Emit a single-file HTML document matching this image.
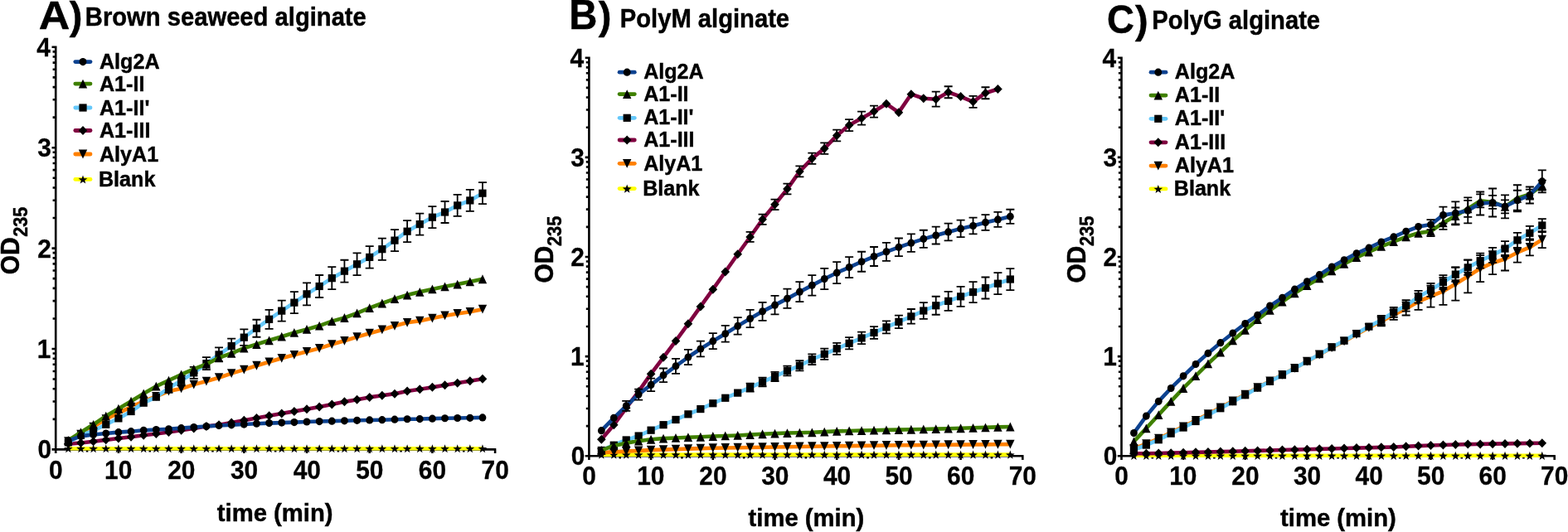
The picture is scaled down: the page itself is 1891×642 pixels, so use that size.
<!DOCTYPE html><html><head><meta charset="utf-8"><title>OD235 time courses of alginate lyases</title><style>html,body{margin:0;padding:0;background:#fff;overflow:hidden;}svg{display:block;}text{font-family:'Liberation Sans', Arial, Helvetica, sans-serif;font-weight:bold;fill:#000;}</style></head><body>
<svg width="1891" height="642" viewBox="0 0 1891 642">
<rect width="1891" height="642" fill="#fff"/>
<g><path d="M67.2 547V55.6M62.5 542.4H598.3M67.2 542.4v4.6M142.9 542.4v4.6M218.6 542.4v4.6M294.3 542.4v4.6M370 542.4v4.6M445.7 542.4v4.6M521.4 542.4v4.6M597.1 542.4v4.6M105.05 542.4v3.2M180.75 542.4v3.2M256.45 542.4v3.2M332.15 542.4v3.2M407.85 542.4v3.2M483.55 542.4v3.2M559.25 542.4v3.2M67.2 542.4h-4.7M67.2 421h-4.7M67.2 299.6h-4.7M67.2 178.2h-4.7M67.2 56.8h-4.7M67.2 505.85h-3.6M67.2 484.48h-3.6M67.2 469.31h-3.6M67.2 457.55h-3.6M67.2 447.93h-3.6M67.2 439.81h-3.6M67.2 432.76h-3.6M67.2 426.55h-3.6M67.2 384.45h-3.6M67.2 363.08h-3.6M67.2 347.91h-3.6M67.2 336.15h-3.6M67.2 326.53h-3.6M67.2 318.41h-3.6M67.2 311.36h-3.6M67.2 305.15h-3.6M67.2 263.05h-3.6M67.2 241.68h-3.6M67.2 226.51h-3.6M67.2 214.75h-3.6M67.2 205.13h-3.6M67.2 197.01h-3.6M67.2 189.96h-3.6M67.2 183.75h-3.6M67.2 141.65h-3.6M67.2 120.28h-3.6M67.2 105.11h-3.6M67.2 93.35h-3.6M67.2 83.73h-3.6M67.2 75.61h-3.6M67.2 68.56h-3.6M67.2 62.35h-3.6" stroke="#000" stroke-width="2.6" fill="none"/><path d="M82.34 541.19L97.48 541.19L112.62 541.19L127.76 541.19L142.9 541.19L158.04 541.19L173.18 541.19L188.32 541.19L203.46 541.19L218.6 541.19L233.74 541.19L248.88 541.19L264.02 541.19L279.16 541.19L294.3 541.19L309.44 541.19L324.58 541.19L339.72 541.19L354.86 541.19L370 541.19L385.14 541.19L400.28 541.19L415.42 541.19L430.56 541.19L445.7 541.19L460.84 541.19L475.98 541.19L491.12 541.19L506.26 541.19L521.4 541.19L536.54 541.19L551.68 541.19L566.82 541.19L581.96 541.19" fill="none" stroke="#ffff00" stroke-width="4.6" stroke-linejoin="round" stroke-linecap="butt"/><g fill="#000"><path d="M82.34 536.19L83.69 539.93L87.67 540.06L84.53 542.5L85.63 546.32L82.34 544.09L79.05 546.32L80.15 542.5L77.01 540.06L80.99 539.93Z"/><path d="M97.48 536.19L98.83 539.93L102.81 540.06L99.67 542.5L100.77 546.32L97.48 544.09L94.19 546.32L95.29 542.5L92.15 540.06L96.13 539.93Z"/><path d="M112.62 536.19L113.97 539.93L117.95 540.06L114.81 542.5L115.91 546.32L112.62 544.09L109.33 546.32L110.43 542.5L107.29 540.06L111.27 539.93Z"/><path d="M127.76 536.19L129.11 539.93L133.09 540.06L129.95 542.5L131.05 546.32L127.76 544.09L124.47 546.32L125.57 542.5L122.43 540.06L126.41 539.93Z"/><path d="M142.9 536.19L144.25 539.93L148.23 540.06L145.09 542.5L146.19 546.32L142.9 544.09L139.61 546.32L140.71 542.5L137.57 540.06L141.55 539.93Z"/><path d="M158.04 536.19L159.39 539.93L163.37 540.06L160.23 542.5L161.33 546.32L158.04 544.09L154.75 546.32L155.85 542.5L152.71 540.06L156.69 539.93Z"/><path d="M173.18 536.19L174.53 539.93L178.51 540.06L175.37 542.5L176.47 546.32L173.18 544.09L169.89 546.32L170.99 542.5L167.85 540.06L171.83 539.93Z"/><path d="M188.32 536.19L189.67 539.93L193.65 540.06L190.51 542.5L191.61 546.32L188.32 544.09L185.03 546.32L186.13 542.5L182.99 540.06L186.97 539.93Z"/><path d="M203.46 536.19L204.81 539.93L208.79 540.06L205.65 542.5L206.75 546.32L203.46 544.09L200.17 546.32L201.27 542.5L198.13 540.06L202.11 539.93Z"/><path d="M218.6 536.19L219.95 539.93L223.93 540.06L220.79 542.5L221.89 546.32L218.6 544.09L215.31 546.32L216.41 542.5L213.27 540.06L217.25 539.93Z"/><path d="M233.74 536.19L235.09 539.93L239.07 540.06L235.93 542.5L237.03 546.32L233.74 544.09L230.45 546.32L231.55 542.5L228.41 540.06L232.39 539.93Z"/><path d="M248.88 536.19L250.23 539.93L254.21 540.06L251.07 542.5L252.17 546.32L248.88 544.09L245.59 546.32L246.69 542.5L243.55 540.06L247.53 539.93Z"/><path d="M264.02 536.19L265.37 539.93L269.35 540.06L266.21 542.5L267.31 546.32L264.02 544.09L260.73 546.32L261.83 542.5L258.69 540.06L262.67 539.93Z"/><path d="M279.16 536.19L280.51 539.93L284.49 540.06L281.35 542.5L282.45 546.32L279.16 544.09L275.87 546.32L276.97 542.5L273.83 540.06L277.81 539.93Z"/><path d="M294.3 536.19L295.65 539.93L299.63 540.06L296.49 542.5L297.59 546.32L294.3 544.09L291.01 546.32L292.11 542.5L288.97 540.06L292.95 539.93Z"/><path d="M309.44 536.19L310.79 539.93L314.77 540.06L311.63 542.5L312.73 546.32L309.44 544.09L306.15 546.32L307.25 542.5L304.11 540.06L308.09 539.93Z"/><path d="M324.58 536.19L325.93 539.93L329.91 540.06L326.77 542.5L327.87 546.32L324.58 544.09L321.29 546.32L322.39 542.5L319.25 540.06L323.23 539.93Z"/><path d="M339.72 536.19L341.07 539.93L345.05 540.06L341.91 542.5L343.01 546.32L339.72 544.09L336.43 546.32L337.53 542.5L334.39 540.06L338.37 539.93Z"/><path d="M354.86 536.19L356.21 539.93L360.19 540.06L357.05 542.5L358.15 546.32L354.86 544.09L351.57 546.32L352.67 542.5L349.53 540.06L353.51 539.93Z"/><path d="M370 536.19L371.35 539.93L375.33 540.06L372.19 542.5L373.29 546.32L370 544.09L366.71 546.32L367.81 542.5L364.67 540.06L368.65 539.93Z"/><path d="M385.14 536.19L386.49 539.93L390.47 540.06L387.33 542.5L388.43 546.32L385.14 544.09L381.85 546.32L382.95 542.5L379.81 540.06L383.79 539.93Z"/><path d="M400.28 536.19L401.63 539.93L405.61 540.06L402.47 542.5L403.57 546.32L400.28 544.09L396.99 546.32L398.09 542.5L394.95 540.06L398.93 539.93Z"/><path d="M415.42 536.19L416.77 539.93L420.75 540.06L417.61 542.5L418.71 546.32L415.42 544.09L412.13 546.32L413.23 542.5L410.09 540.06L414.07 539.93Z"/><path d="M430.56 536.19L431.91 539.93L435.89 540.06L432.75 542.5L433.85 546.32L430.56 544.09L427.27 546.32L428.37 542.5L425.23 540.06L429.21 539.93Z"/><path d="M445.7 536.19L447.05 539.93L451.03 540.06L447.89 542.5L448.99 546.32L445.7 544.09L442.41 546.32L443.51 542.5L440.37 540.06L444.35 539.93Z"/><path d="M460.84 536.19L462.19 539.93L466.17 540.06L463.03 542.5L464.13 546.32L460.84 544.09L457.55 546.32L458.65 542.5L455.51 540.06L459.49 539.93Z"/><path d="M475.98 536.19L477.33 539.93L481.31 540.06L478.17 542.5L479.27 546.32L475.98 544.09L472.69 546.32L473.79 542.5L470.65 540.06L474.63 539.93Z"/><path d="M491.12 536.19L492.47 539.93L496.45 540.06L493.31 542.5L494.41 546.32L491.12 544.09L487.83 546.32L488.93 542.5L485.79 540.06L489.77 539.93Z"/><path d="M506.26 536.19L507.61 539.93L511.59 540.06L508.45 542.5L509.55 546.32L506.26 544.09L502.97 546.32L504.07 542.5L500.93 540.06L504.91 539.93Z"/><path d="M521.4 536.19L522.75 539.93L526.73 540.06L523.59 542.5L524.69 546.32L521.4 544.09L518.11 546.32L519.21 542.5L516.07 540.06L520.05 539.93Z"/><path d="M536.54 536.19L537.89 539.93L541.87 540.06L538.73 542.5L539.83 546.32L536.54 544.09L533.25 546.32L534.35 542.5L531.21 540.06L535.19 539.93Z"/><path d="M551.68 536.19L553.03 539.93L557.01 540.06L553.87 542.5L554.97 546.32L551.68 544.09L548.39 546.32L549.49 542.5L546.35 540.06L550.33 539.93Z"/><path d="M566.82 536.19L568.17 539.93L572.15 540.06L569.01 542.5L570.11 546.32L566.82 544.09L563.53 546.32L564.63 542.5L561.49 540.06L565.47 539.93Z"/><path d="M581.96 536.19L583.31 539.93L587.29 540.06L584.15 542.5L585.25 546.32L581.96 544.09L578.67 546.32L579.77 542.5L576.63 540.06L580.61 539.93Z"/></g><path d="M82.34 532.69L97.48 524.19L112.62 515.08L127.76 505.74L142.9 498.33L158.04 491.17L173.18 484.25L188.32 478.3L203.46 472.11L218.6 468.95L233.74 464.1L248.88 460.09L264.02 455.72L279.16 450.62L294.3 446.13L309.44 441.27L324.58 436.78L339.72 432.29L354.86 428.28L370 424.28L385.14 420.39L400.28 415.54L415.42 411.29L430.56 406.67L445.7 402.18L460.84 397.93L475.98 393.32L491.12 389.31L506.26 387.13L521.4 384.09L536.54 380.94L551.68 378.51L566.82 376.32L581.96 373.17" fill="none" stroke="#ff8000" stroke-width="4.6" stroke-linejoin="round" stroke-linecap="butt"/><g fill="#000"><path d="M82.34 538.09L87.54 527.29L77.14 527.29Z"/><path d="M97.48 529.59L102.68 518.79L92.28 518.79Z"/><path d="M112.62 520.48L117.82 509.68L107.42 509.68Z"/><path d="M127.76 511.14L132.96 500.34L122.56 500.34Z"/><path d="M142.9 503.73L148.1 492.93L137.7 492.93Z"/><path d="M158.04 496.57L163.24 485.77L152.84 485.77Z"/><path d="M173.18 489.65L178.38 478.85L167.98 478.85Z"/><path d="M188.32 483.7L193.52 472.9L183.12 472.9Z"/><path d="M203.46 477.51L208.66 466.71L198.26 466.71Z"/><path d="M218.6 474.35L223.8 463.55L213.4 463.55Z"/><path d="M233.74 469.5L238.94 458.7L228.54 458.7Z"/><path d="M248.88 465.49L254.08 454.69L243.68 454.69Z"/><path d="M264.02 461.12L269.22 450.32L258.82 450.32Z"/><path d="M279.16 456.02L284.36 445.22L273.96 445.22Z"/><path d="M294.3 451.53L299.5 440.73L289.1 440.73Z"/><path d="M309.44 446.67L314.64 435.87L304.24 435.87Z"/><path d="M324.58 442.18L329.78 431.38L319.38 431.38Z"/><path d="M339.72 437.69L344.92 426.89L334.52 426.89Z"/><path d="M354.86 433.68L360.06 422.88L349.66 422.88Z"/><path d="M370 429.68L375.2 418.88L364.8 418.88Z"/><path d="M385.14 425.79L390.34 414.99L379.94 414.99Z"/><path d="M400.28 420.94L405.48 410.14L395.08 410.14Z"/><path d="M415.42 416.69L420.62 405.89L410.22 405.89Z"/><path d="M430.56 412.07L435.76 401.27L425.36 401.27Z"/><path d="M445.7 407.58L450.9 396.78L440.5 396.78Z"/><path d="M460.84 403.33L466.04 392.53L455.64 392.53Z"/><path d="M475.98 398.72L481.18 387.92L470.78 387.92Z"/><path d="M491.12 394.71L496.32 383.91L485.92 383.91Z"/><path d="M506.26 392.53L511.46 381.73L501.06 381.73Z"/><path d="M521.4 389.49L526.6 378.69L516.2 378.69Z"/><path d="M536.54 386.34L541.74 375.54L531.34 375.54Z"/><path d="M551.68 383.91L556.88 373.11L546.48 373.11Z"/><path d="M566.82 381.72L572.02 370.92L561.62 370.92Z"/><path d="M581.96 378.57L587.16 367.77L576.76 367.77Z"/></g><path d="M82.34 535.6L97.48 534.51L112.62 532.81L127.76 530.87L142.9 529.05L158.04 527.23L173.18 525.28L188.32 523.46L203.46 521.52L218.6 519.21L233.74 517.03L248.88 514.48L264.02 512.78L279.16 510.11L294.3 507.32L309.44 504.4L324.58 501.85L339.72 499.06L354.86 496.39L370 493.84L385.14 490.93L400.28 487.89L415.42 484.86L430.56 482.31L445.7 479.39L460.84 477.21L475.98 475.14L491.12 471.99L506.26 469.8L521.4 467.37L536.54 464.83L551.68 462.28L566.82 459.85L581.96 457.3" fill="none" stroke="#800040" stroke-width="4.6" stroke-linejoin="round" stroke-linecap="butt"/><g fill="#000"><path d="M82.34 530.1L87.64 535.6L82.34 541.1L77.04 535.6Z"/><path d="M97.48 529.01L102.78 534.51L97.48 540.01L92.18 534.51Z"/><path d="M112.62 527.31L117.92 532.81L112.62 538.31L107.32 532.81Z"/><path d="M127.76 525.37L133.06 530.87L127.76 536.37L122.46 530.87Z"/><path d="M142.9 523.55L148.2 529.05L142.9 534.55L137.6 529.05Z"/><path d="M158.04 521.73L163.34 527.23L158.04 532.73L152.74 527.23Z"/><path d="M173.18 519.78L178.48 525.28L173.18 530.78L167.88 525.28Z"/><path d="M188.32 517.96L193.62 523.46L188.32 528.96L183.02 523.46Z"/><path d="M203.46 516.02L208.76 521.52L203.46 527.02L198.16 521.52Z"/><path d="M218.6 513.71L223.9 519.21L218.6 524.71L213.3 519.21Z"/><path d="M233.74 511.53L239.04 517.03L233.74 522.53L228.44 517.03Z"/><path d="M248.88 508.98L254.18 514.48L248.88 519.98L243.58 514.48Z"/><path d="M264.02 507.28L269.32 512.78L264.02 518.28L258.72 512.78Z"/><path d="M279.16 504.61L284.46 510.11L279.16 515.61L273.86 510.11Z"/><path d="M294.3 501.82L299.6 507.32L294.3 512.82L289 507.32Z"/><path d="M309.44 498.9L314.74 504.4L309.44 509.9L304.14 504.4Z"/><path d="M324.58 496.35L329.88 501.85L324.58 507.35L319.28 501.85Z"/><path d="M339.72 493.56L345.02 499.06L339.72 504.56L334.42 499.06Z"/><path d="M354.86 490.89L360.16 496.39L354.86 501.89L349.56 496.39Z"/><path d="M370 488.34L375.3 493.84L370 499.34L364.7 493.84Z"/><path d="M385.14 485.43L390.44 490.93L385.14 496.43L379.84 490.93Z"/><path d="M400.28 482.39L405.58 487.89L400.28 493.39L394.98 487.89Z"/><path d="M415.42 479.36L420.72 484.86L415.42 490.36L410.12 484.86Z"/><path d="M430.56 476.81L435.86 482.31L430.56 487.81L425.26 482.31Z"/><path d="M445.7 473.89L451 479.39L445.7 484.89L440.4 479.39Z"/><path d="M460.84 471.71L466.14 477.21L460.84 482.71L455.54 477.21Z"/><path d="M475.98 469.64L481.28 475.14L475.98 480.64L470.68 475.14Z"/><path d="M491.12 466.49L496.42 471.99L491.12 477.49L485.82 471.99Z"/><path d="M506.26 464.3L511.56 469.8L506.26 475.3L500.96 469.8Z"/><path d="M521.4 461.87L526.7 467.37L521.4 472.87L516.1 467.37Z"/><path d="M536.54 459.33L541.84 464.83L536.54 470.33L531.24 464.83Z"/><path d="M551.68 456.78L556.98 462.28L551.68 467.78L546.38 462.28Z"/><path d="M566.82 454.35L572.12 459.85L566.82 465.35L561.52 459.85Z"/><path d="M581.96 451.8L587.26 457.3L581.96 462.8L576.66 457.3Z"/></g><path d="M82.34 533.9L97.48 525.28L112.62 519.7L127.76 512.29L142.9 504.89L158.04 496.51L173.18 486.19L188.32 479.15L203.46 468.35L218.6 459.24L233.74 449.89L248.88 438.72L264.02 427.92L279.16 417.6L294.3 407.16L309.44 396.23L324.58 385.31L339.72 375.11L354.86 365.16L370 354.84L385.14 345.49L400.28 335.66L415.42 327.16L430.56 318.78L445.7 310.4L460.84 300.69L475.98 290.13L491.12 279.2L506.26 270.59L521.4 262.21L536.54 256.02L551.68 247.88L566.82 241.93L581.96 233.19" fill="none" stroke="#66c8fa" stroke-width="4.6" stroke-linejoin="round" stroke-linecap="butt"/><path d="M203.46 462.85V473.85M198.46 462.85h10M198.46 473.85h10M218.6 453.24V465.24M213.6 453.24h10M213.6 465.24h10M233.74 442.89V456.89M228.74 442.89h10M228.74 456.89h10M248.88 431.22V446.22M243.88 431.22h10M243.88 446.22h10M264.02 419.42V436.42M259.02 419.42h10M259.02 436.42h10M279.16 408.6V426.6M274.16 408.6h10M274.16 426.6h10M294.3 397.46V416.86M289.3 397.46h10M289.3 416.86h10M309.44 385.73V406.73M304.44 385.73h10M304.44 406.73h10M324.58 373.81V396.81M319.58 373.81h10M319.58 396.81h10M339.72 362.61V387.61M334.72 362.61h10M334.72 387.61h10M354.86 352.16V378.16M349.86 352.16h10M349.86 378.16h10M370 341.34V368.34M365 341.34h10M365 368.34h10M385.14 331.99V358.99M380.14 331.99h10M380.14 358.99h10M400.28 322.16V349.16M395.28 322.16h10M395.28 349.16h10M415.42 313.74V340.57M410.42 313.74h10M410.42 340.57h10M430.56 305.45V332.11M425.56 305.45h10M425.56 332.11h10M445.7 297.15V323.65M440.7 297.15h10M440.7 323.65h10M460.84 287.53V313.86M455.84 287.53h10M455.84 313.86h10M475.98 277.05V303.21M470.98 277.05h10M470.98 303.21h10M491.12 266.2V292.2M486.12 266.2h10M486.12 292.2h10M506.26 257.59V283.59M501.26 257.59h10M501.26 283.59h10M521.4 249.21V275.21M516.4 249.21h10M516.4 275.21h10M536.54 243.02V269.02M531.54 243.02h10M531.54 269.02h10M551.68 234.88V260.88M546.68 234.88h10M546.68 260.88h10M566.82 228.93V254.93M561.82 228.93h10M561.82 254.93h10M581.96 220.19V246.19M576.96 220.19h10M576.96 246.19h10" stroke="#000" stroke-width="1.8" fill="none"/><g fill="#000"><rect x="77.74" y="529.3" width="9.2" height="9.2"/><rect x="92.88" y="520.68" width="9.2" height="9.2"/><rect x="108.02" y="515.1" width="9.2" height="9.2"/><rect x="123.16" y="507.69" width="9.2" height="9.2"/><rect x="138.3" y="500.29" width="9.2" height="9.2"/><rect x="153.44" y="491.91" width="9.2" height="9.2"/><rect x="168.58" y="481.59" width="9.2" height="9.2"/><rect x="183.72" y="474.55" width="9.2" height="9.2"/><rect x="198.86" y="463.75" width="9.2" height="9.2"/><rect x="214" y="454.64" width="9.2" height="9.2"/><rect x="229.14" y="445.29" width="9.2" height="9.2"/><rect x="244.28" y="434.12" width="9.2" height="9.2"/><rect x="259.42" y="423.32" width="9.2" height="9.2"/><rect x="274.56" y="413" width="9.2" height="9.2"/><rect x="289.7" y="402.56" width="9.2" height="9.2"/><rect x="304.84" y="391.63" width="9.2" height="9.2"/><rect x="319.98" y="380.71" width="9.2" height="9.2"/><rect x="335.12" y="370.51" width="9.2" height="9.2"/><rect x="350.26" y="360.56" width="9.2" height="9.2"/><rect x="365.4" y="350.24" width="9.2" height="9.2"/><rect x="380.54" y="340.89" width="9.2" height="9.2"/><rect x="395.68" y="331.06" width="9.2" height="9.2"/><rect x="410.82" y="322.56" width="9.2" height="9.2"/><rect x="425.96" y="314.18" width="9.2" height="9.2"/><rect x="441.1" y="305.8" width="9.2" height="9.2"/><rect x="456.24" y="296.09" width="9.2" height="9.2"/><rect x="471.38" y="285.53" width="9.2" height="9.2"/><rect x="486.52" y="274.6" width="9.2" height="9.2"/><rect x="501.66" y="265.99" width="9.2" height="9.2"/><rect x="516.8" y="257.61" width="9.2" height="9.2"/><rect x="531.94" y="251.42" width="9.2" height="9.2"/><rect x="547.08" y="243.28" width="9.2" height="9.2"/><rect x="562.22" y="237.33" width="9.2" height="9.2"/><rect x="577.36" y="228.59" width="9.2" height="9.2"/></g><path d="M82.34 531.47L97.48 521.64L112.62 512.29L127.76 502.1L142.9 493.23L158.04 484.25L173.18 475.02L188.32 466.16L203.46 459.12L218.6 451.96L233.74 445.28L248.88 439.45L264.02 431.68L279.16 426.46L294.3 420.15L309.44 415.54L324.58 410.8L339.72 406.19L354.86 401.45L370 397.45L385.14 393.08L400.28 387.62L415.42 383.49L430.56 377.9L445.7 371.59L460.84 366.01L475.98 360.66L491.12 356.05L506.26 352.29L521.4 348.89L536.54 345.85L551.68 343.06L566.82 339.9L581.96 336.75" fill="none" stroke="#3f8000" stroke-width="4.6" stroke-linejoin="round" stroke-linecap="butt"/><g fill="#000"><path d="M82.34 526.07L87.54 536.87L77.14 536.87Z"/><path d="M97.48 516.24L102.68 527.04L92.28 527.04Z"/><path d="M112.62 506.89L117.82 517.69L107.42 517.69Z"/><path d="M127.76 496.7L132.96 507.5L122.56 507.5Z"/><path d="M142.9 487.83L148.1 498.63L137.7 498.63Z"/><path d="M158.04 478.85L163.24 489.65L152.84 489.65Z"/><path d="M173.18 469.62L178.38 480.42L167.98 480.42Z"/><path d="M188.32 460.76L193.52 471.56L183.12 471.56Z"/><path d="M203.46 453.72L208.66 464.52L198.26 464.52Z"/><path d="M218.6 446.56L223.8 457.36L213.4 457.36Z"/><path d="M233.74 439.88L238.94 450.68L228.54 450.68Z"/><path d="M248.88 434.05L254.08 444.85L243.68 444.85Z"/><path d="M264.02 426.28L269.22 437.08L258.82 437.08Z"/><path d="M279.16 421.06L284.36 431.86L273.96 431.86Z"/><path d="M294.3 414.75L299.5 425.55L289.1 425.55Z"/><path d="M309.44 410.14L314.64 420.94L304.24 420.94Z"/><path d="M324.58 405.4L329.78 416.2L319.38 416.2Z"/><path d="M339.72 400.79L344.92 411.59L334.52 411.59Z"/><path d="M354.86 396.05L360.06 406.85L349.66 406.85Z"/><path d="M370 392.05L375.2 402.85L364.8 402.85Z"/><path d="M385.14 387.68L390.34 398.48L379.94 398.48Z"/><path d="M400.28 382.22L405.48 393.01L395.08 393.01Z"/><path d="M415.42 378.09L420.62 388.89L410.22 388.89Z"/><path d="M430.56 372.5L435.76 383.3L425.36 383.3Z"/><path d="M445.7 366.19L450.9 376.99L440.5 376.99Z"/><path d="M460.84 360.61L466.04 371.41L455.64 371.41Z"/><path d="M475.98 355.26L481.18 366.06L470.78 366.06Z"/><path d="M491.12 350.65L496.32 361.45L485.92 361.45Z"/><path d="M506.26 346.89L511.46 357.69L501.06 357.69Z"/><path d="M521.4 343.49L526.6 354.29L516.2 354.29Z"/><path d="M536.54 340.45L541.74 351.25L531.34 351.25Z"/><path d="M551.68 337.66L556.88 348.46L546.48 348.46Z"/><path d="M566.82 334.5L572.02 345.3L561.62 345.3Z"/><path d="M581.96 331.35L587.16 342.15L576.76 342.15Z"/></g><path d="M82.34 531.96L97.48 526.38L112.62 524.43L127.76 522.98L142.9 521.64L158.04 520.67L173.18 519.33L188.32 518.48L203.46 517.76L218.6 516.66L233.74 515.57L248.88 514.48L264.02 513.51L279.16 512.78L294.3 512.05L309.44 511.2L324.58 510.59L339.72 510.11L354.86 509.62L370 509.01L385.14 508.53L400.28 508.17L415.42 507.8L430.56 507.32L445.7 506.95L460.84 506.71L475.98 506.22L491.12 505.74L506.26 505.62L521.4 505.13L536.54 504.77L551.68 504.52L566.82 504.28L581.96 503.92" fill="none" stroke="#0d4290" stroke-width="4.6" stroke-linejoin="round" stroke-linecap="butt"/><g fill="#000"><ellipse cx="82.34" cy="531.96" rx="4.4" ry="4.6"/><ellipse cx="97.48" cy="526.38" rx="4.4" ry="4.6"/><ellipse cx="112.62" cy="524.43" rx="4.4" ry="4.6"/><ellipse cx="127.76" cy="522.98" rx="4.4" ry="4.6"/><ellipse cx="142.9" cy="521.64" rx="4.4" ry="4.6"/><ellipse cx="158.04" cy="520.67" rx="4.4" ry="4.6"/><ellipse cx="173.18" cy="519.33" rx="4.4" ry="4.6"/><ellipse cx="188.32" cy="518.48" rx="4.4" ry="4.6"/><ellipse cx="203.46" cy="517.76" rx="4.4" ry="4.6"/><ellipse cx="218.6" cy="516.66" rx="4.4" ry="4.6"/><ellipse cx="233.74" cy="515.57" rx="4.4" ry="4.6"/><ellipse cx="248.88" cy="514.48" rx="4.4" ry="4.6"/><ellipse cx="264.02" cy="513.51" rx="4.4" ry="4.6"/><ellipse cx="279.16" cy="512.78" rx="4.4" ry="4.6"/><ellipse cx="294.3" cy="512.05" rx="4.4" ry="4.6"/><ellipse cx="309.44" cy="511.2" rx="4.4" ry="4.6"/><ellipse cx="324.58" cy="510.59" rx="4.4" ry="4.6"/><ellipse cx="339.72" cy="510.11" rx="4.4" ry="4.6"/><ellipse cx="354.86" cy="509.62" rx="4.4" ry="4.6"/><ellipse cx="370" cy="509.01" rx="4.4" ry="4.6"/><ellipse cx="385.14" cy="508.53" rx="4.4" ry="4.6"/><ellipse cx="400.28" cy="508.17" rx="4.4" ry="4.6"/><ellipse cx="415.42" cy="507.8" rx="4.4" ry="4.6"/><ellipse cx="430.56" cy="507.32" rx="4.4" ry="4.6"/><ellipse cx="445.7" cy="506.95" rx="4.4" ry="4.6"/><ellipse cx="460.84" cy="506.71" rx="4.4" ry="4.6"/><ellipse cx="475.98" cy="506.22" rx="4.4" ry="4.6"/><ellipse cx="491.12" cy="505.74" rx="4.4" ry="4.6"/><ellipse cx="506.26" cy="505.62" rx="4.4" ry="4.6"/><ellipse cx="521.4" cy="505.13" rx="4.4" ry="4.6"/><ellipse cx="536.54" cy="504.77" rx="4.4" ry="4.6"/><ellipse cx="551.68" cy="504.52" rx="4.4" ry="4.6"/><ellipse cx="566.82" cy="504.28" rx="4.4" ry="4.6"/><ellipse cx="581.96" cy="503.92" rx="4.4" ry="4.6"/></g><text transform="translate(58.98 577.5) scale(0.2990 0.3200)" font-size="100" stroke="#000" stroke-width="0.97">0</text><text transform="translate(126.01 577.5) scale(0.2990 0.3200)" font-size="100" stroke="#000" stroke-width="0.97">10</text><text transform="translate(202.16 577.5) scale(0.2990 0.3200)" font-size="100" stroke="#000" stroke-width="0.97">20</text><text transform="translate(278 577.5) scale(0.2990 0.3200)" font-size="100" stroke="#000" stroke-width="0.97">30</text><text transform="translate(353.7 577.5) scale(0.2990 0.3200)" font-size="100" stroke="#000" stroke-width="0.97">40</text><text transform="translate(429.25 577.5) scale(0.2990 0.3200)" font-size="100" stroke="#000" stroke-width="0.97">50</text><text transform="translate(504.81 577.5) scale(0.2990 0.3200)" font-size="100" stroke="#000" stroke-width="0.97">60</text><text transform="translate(580.51 577.5) scale(0.2990 0.3200)" font-size="100" stroke="#000" stroke-width="0.97">70</text><text transform="translate(45.45 553.4) scale(0.2990 0.3200)" font-size="100" stroke="#000" stroke-width="0.97">0</text><text transform="translate(44.85 432) scale(0.2990 0.3200)" font-size="100" stroke="#000" stroke-width="0.97">1</text><text transform="translate(45.15 310.6) scale(0.2990 0.3200)" font-size="100" stroke="#000" stroke-width="0.97">2</text><text transform="translate(45.15 189.2) scale(0.2990 0.3200)" font-size="100" stroke="#000" stroke-width="0.97">3</text><text transform="translate(44.26 67.8) scale(0.2990 0.3200)" font-size="100" stroke="#000" stroke-width="0.97">4</text><path d="M90.8 74.6H109" stroke="#0d4290" stroke-width="4.8" stroke-linecap="round"/><g fill="#000"><ellipse cx="100" cy="74.6" rx="4.4" ry="4.6"/></g><text transform="translate(120 82.9) scale(0.2510 0.2670)" font-size="100" stroke="#000" stroke-width="1.74">Alg2A</text><path d="M90.8 101.1H109" stroke="#3f8000" stroke-width="4.8" stroke-linecap="round"/><g fill="#000"><path d="M100 95.7L105.2 106.5L94.8 106.5Z"/></g><text transform="translate(120 110) scale(0.2510 0.2670)" font-size="100" stroke="#000" stroke-width="1.74">A1-II</text><path d="M90.8 130H109" stroke="#66c8fa" stroke-width="4.8" stroke-linecap="round"/><g fill="#000"><rect x="95.4" y="125.4" width="9.2" height="9.2"/></g><text transform="translate(120 138.9) scale(0.2510 0.2670)" font-size="100" stroke="#000" stroke-width="1.74">A1-II&#39;</text><path d="M90.8 157.5H109" stroke="#800040" stroke-width="4.8" stroke-linecap="round"/><g fill="#000"><path d="M100 152L105.3 157.5L100 163L94.7 157.5Z"/></g><text transform="translate(120 166.2) scale(0.2510 0.2670)" font-size="100" stroke="#000" stroke-width="1.74">A1-III</text><path d="M90.8 186H109" stroke="#ff8000" stroke-width="4.8" stroke-linecap="round"/><g fill="#000"><path d="M100 191.4L105.2 180.6L94.8 180.6Z"/></g><text transform="translate(120 194.7) scale(0.2510 0.2670)" font-size="100" stroke="#000" stroke-width="1.74">AlyA1</text><path d="M90.8 216.4H109" stroke="#ffff00" stroke-width="4.8" stroke-linecap="round"/><g fill="#000"><path d="M100 211.4L101.35 215.14L105.33 215.27L102.19 217.71L103.29 221.53L100 219.3L96.71 221.53L97.81 217.71L94.67 215.27L98.65 215.14Z"/></g><text transform="translate(119 224.5) scale(0.2510 0.2670)" font-size="100" stroke="#000" stroke-width="1.74">Blank</text><text transform="translate(46.74 34.7) scale(0.5197 0.4855)" font-size="100" stroke="#000" stroke-width="0.9">A</text><text transform="translate(83.8 34.93) scale(0.4700 0.4700)" font-size="100" stroke="#000" stroke-width="0.96">)</text><text transform="translate(102.86 30.8) scale(0.2920 0.3190)" font-size="100" stroke="#000" stroke-width="1.47">Brown seaweed alginate</text><text transform="translate(23.1 331.3) rotate(-90) scale(0.3007 0.3127)" font-size="100" stroke="#000" stroke-width="1.47">OD</text><text transform="translate(32.7 285.85) rotate(-90) scale(0.2161 0.2338)" font-size="100" stroke="#000" stroke-width="2">235</text><text transform="translate(261.81 628.7) scale(0.2926 0.3000)" font-size="100" stroke="#000" stroke-width="1.52">time (min)</text></g>
<g><path d="M710.4 554.9V68.5M705.7 550.3H1234.5M710.4 550.3v4.6M785.1 550.3v4.6M859.8 550.3v4.6M934.5 550.3v4.6M1009.2 550.3v4.6M1083.9 550.3v4.6M1158.6 550.3v4.6M1233.3 550.3v4.6M747.75 550.3v3.2M822.45 550.3v3.2M897.15 550.3v3.2M971.85 550.3v3.2M1046.55 550.3v3.2M1121.25 550.3v3.2M1195.95 550.3v3.2M710.4 550.3h-4.7M710.4 430.15h-4.7M710.4 310h-4.7M710.4 189.85h-4.7M710.4 69.7h-4.7M710.4 514.13h-3.6M710.4 492.97h-3.6M710.4 477.96h-3.6M710.4 466.32h-3.6M710.4 456.81h-3.6M710.4 448.76h-3.6M710.4 441.79h-3.6M710.4 435.65h-3.6M710.4 393.98h-3.6M710.4 372.82h-3.6M710.4 357.81h-3.6M710.4 346.17h-3.6M710.4 336.66h-3.6M710.4 328.61h-3.6M710.4 321.64h-3.6M710.4 315.5h-3.6M710.4 273.83h-3.6M710.4 252.67h-3.6M710.4 237.66h-3.6M710.4 226.02h-3.6M710.4 216.51h-3.6M710.4 208.46h-3.6M710.4 201.49h-3.6M710.4 195.35h-3.6M710.4 153.68h-3.6M710.4 132.52h-3.6M710.4 117.51h-3.6M710.4 105.87h-3.6M710.4 96.36h-3.6M710.4 88.31h-3.6M710.4 81.34h-3.6M710.4 75.2h-3.6" stroke="#000" stroke-width="2.6" fill="none"/><path d="M725.34 548.62L740.28 548.62L755.22 548.62L770.16 548.62L785.1 548.62L800.04 548.62L814.98 548.62L829.92 548.62L844.86 548.62L859.8 548.62L874.74 548.62L889.68 548.62L904.62 548.62L919.56 548.62L934.5 548.62L949.44 548.62L964.38 548.62L979.32 548.62L994.26 548.62L1009.2 548.62L1024.14 548.62L1039.08 548.62L1054.02 548.62L1068.96 548.62L1083.9 548.62L1098.84 548.62L1113.78 548.62L1128.72 548.62L1143.66 548.62L1158.6 548.62L1173.54 548.62L1188.48 548.62L1203.42 548.62L1218.36 548.62" fill="none" stroke="#ffff00" stroke-width="4.6" stroke-linejoin="round" stroke-linecap="butt"/><g fill="#000"><path d="M725.34 543.62L726.69 547.36L730.67 547.49L727.53 549.93L728.63 553.75L725.34 551.52L722.05 553.75L723.15 549.93L720.01 547.49L723.99 547.36Z"/><path d="M740.28 543.62L741.63 547.36L745.61 547.49L742.47 549.93L743.57 553.75L740.28 551.52L736.99 553.75L738.09 549.93L734.95 547.49L738.93 547.36Z"/><path d="M755.22 543.62L756.57 547.36L760.55 547.49L757.41 549.93L758.51 553.75L755.22 551.52L751.93 553.75L753.03 549.93L749.89 547.49L753.87 547.36Z"/><path d="M770.16 543.62L771.51 547.36L775.49 547.49L772.35 549.93L773.45 553.75L770.16 551.52L766.87 553.75L767.97 549.93L764.83 547.49L768.81 547.36Z"/><path d="M785.1 543.62L786.45 547.36L790.43 547.49L787.29 549.93L788.39 553.75L785.1 551.52L781.81 553.75L782.91 549.93L779.77 547.49L783.75 547.36Z"/><path d="M800.04 543.62L801.39 547.36L805.37 547.49L802.23 549.93L803.33 553.75L800.04 551.52L796.75 553.75L797.85 549.93L794.71 547.49L798.69 547.36Z"/><path d="M814.98 543.62L816.33 547.36L820.31 547.49L817.17 549.93L818.27 553.75L814.98 551.52L811.69 553.75L812.79 549.93L809.65 547.49L813.63 547.36Z"/><path d="M829.92 543.62L831.27 547.36L835.25 547.49L832.11 549.93L833.21 553.75L829.92 551.52L826.63 553.75L827.73 549.93L824.59 547.49L828.57 547.36Z"/><path d="M844.86 543.62L846.21 547.36L850.19 547.49L847.05 549.93L848.15 553.75L844.86 551.52L841.57 553.75L842.67 549.93L839.53 547.49L843.51 547.36Z"/><path d="M859.8 543.62L861.15 547.36L865.13 547.49L861.99 549.93L863.09 553.75L859.8 551.52L856.51 553.75L857.61 549.93L854.47 547.49L858.45 547.36Z"/><path d="M874.74 543.62L876.09 547.36L880.07 547.49L876.93 549.93L878.03 553.75L874.74 551.52L871.45 553.75L872.55 549.93L869.41 547.49L873.39 547.36Z"/><path d="M889.68 543.62L891.03 547.36L895.01 547.49L891.87 549.93L892.97 553.75L889.68 551.52L886.39 553.75L887.49 549.93L884.35 547.49L888.33 547.36Z"/><path d="M904.62 543.62L905.97 547.36L909.95 547.49L906.81 549.93L907.91 553.75L904.62 551.52L901.33 553.75L902.43 549.93L899.29 547.49L903.27 547.36Z"/><path d="M919.56 543.62L920.91 547.36L924.89 547.49L921.75 549.93L922.85 553.75L919.56 551.52L916.27 553.75L917.37 549.93L914.23 547.49L918.21 547.36Z"/><path d="M934.5 543.62L935.85 547.36L939.83 547.49L936.69 549.93L937.79 553.75L934.5 551.52L931.21 553.75L932.31 549.93L929.17 547.49L933.15 547.36Z"/><path d="M949.44 543.62L950.79 547.36L954.77 547.49L951.63 549.93L952.73 553.75L949.44 551.52L946.15 553.75L947.25 549.93L944.11 547.49L948.09 547.36Z"/><path d="M964.38 543.62L965.73 547.36L969.71 547.49L966.57 549.93L967.67 553.75L964.38 551.52L961.09 553.75L962.19 549.93L959.05 547.49L963.03 547.36Z"/><path d="M979.32 543.62L980.67 547.36L984.65 547.49L981.51 549.93L982.61 553.75L979.32 551.52L976.03 553.75L977.13 549.93L973.99 547.49L977.97 547.36Z"/><path d="M994.26 543.62L995.61 547.36L999.59 547.49L996.45 549.93L997.55 553.75L994.26 551.52L990.97 553.75L992.07 549.93L988.93 547.49L992.91 547.36Z"/><path d="M1009.2 543.62L1010.55 547.36L1014.53 547.49L1011.39 549.93L1012.49 553.75L1009.2 551.52L1005.91 553.75L1007.01 549.93L1003.87 547.49L1007.85 547.36Z"/><path d="M1024.14 543.62L1025.49 547.36L1029.47 547.49L1026.33 549.93L1027.43 553.75L1024.14 551.52L1020.85 553.75L1021.95 549.93L1018.81 547.49L1022.79 547.36Z"/><path d="M1039.08 543.62L1040.43 547.36L1044.41 547.49L1041.27 549.93L1042.37 553.75L1039.08 551.52L1035.79 553.75L1036.89 549.93L1033.75 547.49L1037.73 547.36Z"/><path d="M1054.02 543.62L1055.37 547.36L1059.35 547.49L1056.21 549.93L1057.31 553.75L1054.02 551.52L1050.73 553.75L1051.83 549.93L1048.69 547.49L1052.67 547.36Z"/><path d="M1068.96 543.62L1070.31 547.36L1074.29 547.49L1071.15 549.93L1072.25 553.75L1068.96 551.52L1065.67 553.75L1066.77 549.93L1063.63 547.49L1067.61 547.36Z"/><path d="M1083.9 543.62L1085.25 547.36L1089.23 547.49L1086.09 549.93L1087.19 553.75L1083.9 551.52L1080.61 553.75L1081.71 549.93L1078.57 547.49L1082.55 547.36Z"/><path d="M1098.84 543.62L1100.19 547.36L1104.17 547.49L1101.03 549.93L1102.13 553.75L1098.84 551.52L1095.55 553.75L1096.65 549.93L1093.51 547.49L1097.49 547.36Z"/><path d="M1113.78 543.62L1115.13 547.36L1119.11 547.49L1115.97 549.93L1117.07 553.75L1113.78 551.52L1110.49 553.75L1111.59 549.93L1108.45 547.49L1112.43 547.36Z"/><path d="M1128.72 543.62L1130.07 547.36L1134.05 547.49L1130.91 549.93L1132.01 553.75L1128.72 551.52L1125.43 553.75L1126.53 549.93L1123.39 547.49L1127.37 547.36Z"/><path d="M1143.66 543.62L1145.01 547.36L1148.99 547.49L1145.85 549.93L1146.95 553.75L1143.66 551.52L1140.37 553.75L1141.47 549.93L1138.33 547.49L1142.31 547.36Z"/><path d="M1158.6 543.62L1159.95 547.36L1163.93 547.49L1160.79 549.93L1161.89 553.75L1158.6 551.52L1155.31 553.75L1156.41 549.93L1153.27 547.49L1157.25 547.36Z"/><path d="M1173.54 543.62L1174.89 547.36L1178.87 547.49L1175.73 549.93L1176.83 553.75L1173.54 551.52L1170.25 553.75L1171.35 549.93L1168.21 547.49L1172.19 547.36Z"/><path d="M1188.48 543.62L1189.83 547.36L1193.81 547.49L1190.67 549.93L1191.77 553.75L1188.48 551.52L1185.19 553.75L1186.29 549.93L1183.15 547.49L1187.13 547.36Z"/><path d="M1203.42 543.62L1204.77 547.36L1208.75 547.49L1205.61 549.93L1206.71 553.75L1203.42 551.52L1200.13 553.75L1201.23 549.93L1198.09 547.49L1202.07 547.36Z"/><path d="M1218.36 543.62L1219.71 547.36L1223.69 547.49L1220.55 549.93L1221.65 553.75L1218.36 551.52L1215.07 553.75L1216.17 549.93L1213.03 547.49L1217.01 547.36Z"/></g><path d="M725.34 546.09L740.28 545.34L755.22 544.59L770.16 543.84L785.1 543.09L800.04 542.61L814.98 542.13L829.92 541.65L844.86 541.17L859.8 540.69L874.74 540.45L889.68 540.21L904.62 539.97L919.56 539.73L934.5 539.49L949.44 539.25L964.38 539.01L979.32 538.77L994.26 538.53L1009.2 538.28L1024.14 538.09L1039.08 537.9L1054.02 537.71L1068.96 537.52L1083.9 537.32L1098.84 537.18L1113.78 537.04L1128.72 536.89L1143.66 536.75L1158.6 536.6L1173.54 536.48L1188.48 536.36L1203.42 536.24L1218.36 536.12" fill="none" stroke="#ff8000" stroke-width="4.6" stroke-linejoin="round" stroke-linecap="butt"/><g fill="#000"><path d="M725.34 551.49L730.54 540.69L720.14 540.69Z"/><path d="M740.28 550.74L745.48 539.94L735.08 539.94Z"/><path d="M755.22 549.99L760.42 539.19L750.02 539.19Z"/><path d="M770.16 549.24L775.36 538.44L764.96 538.44Z"/><path d="M785.1 548.49L790.3 537.69L779.9 537.69Z"/><path d="M800.04 548.01L805.24 537.21L794.84 537.21Z"/><path d="M814.98 547.53L820.18 536.73L809.78 536.73Z"/><path d="M829.92 547.05L835.12 536.25L824.72 536.25Z"/><path d="M844.86 546.57L850.06 535.77L839.66 535.77Z"/><path d="M859.8 546.09L865 535.29L854.6 535.29Z"/><path d="M874.74 545.85L879.94 535.05L869.54 535.05Z"/><path d="M889.68 545.61L894.88 534.81L884.48 534.81Z"/><path d="M904.62 545.37L909.82 534.57L899.42 534.57Z"/><path d="M919.56 545.13L924.76 534.33L914.36 534.33Z"/><path d="M934.5 544.89L939.7 534.09L929.3 534.09Z"/><path d="M949.44 544.65L954.64 533.85L944.24 533.85Z"/><path d="M964.38 544.41L969.58 533.61L959.18 533.61Z"/><path d="M979.32 544.17L984.52 533.37L974.12 533.37Z"/><path d="M994.26 543.93L999.46 533.13L989.06 533.13Z"/><path d="M1009.2 543.68L1014.4 532.88L1004 532.88Z"/><path d="M1024.14 543.49L1029.34 532.69L1018.94 532.69Z"/><path d="M1039.08 543.3L1044.28 532.5L1033.88 532.5Z"/><path d="M1054.02 543.11L1059.22 532.31L1048.82 532.31Z"/><path d="M1068.96 542.92L1074.16 532.12L1063.76 532.12Z"/><path d="M1083.9 542.72L1089.1 531.92L1078.7 531.92Z"/><path d="M1098.84 542.58L1104.04 531.78L1093.64 531.78Z"/><path d="M1113.78 542.44L1118.98 531.64L1108.58 531.64Z"/><path d="M1128.72 542.29L1133.92 531.49L1123.52 531.49Z"/><path d="M1143.66 542.15L1148.86 531.35L1138.46 531.35Z"/><path d="M1158.6 542L1163.8 531.2L1153.4 531.2Z"/><path d="M1173.54 541.88L1178.74 531.08L1168.34 531.08Z"/><path d="M1188.48 541.76L1193.68 530.96L1183.28 530.96Z"/><path d="M1203.42 541.64L1208.62 530.84L1198.22 530.84Z"/><path d="M1218.36 541.52L1223.56 530.72L1213.16 530.72Z"/></g><path d="M725.34 530.23L740.28 512.69L755.22 492.27L770.16 472.44L785.1 451.18L800.04 431.35L814.98 411.41L829.92 390.86L844.86 369.95L859.8 349.17L874.74 328.02L889.68 306.76L904.62 285.97L919.56 264.82L934.5 246.8L949.44 228.06L964.38 206.91L979.32 191.29L994.26 179.16L1009.2 163.54L1024.14 151.04L1039.08 142.63L1054.02 134.58L1068.96 125.33L1083.9 135.66L1098.84 113.67L1113.78 118.72L1128.72 119.68L1143.66 111.27L1158.6 116.56L1173.54 122.81L1188.48 112.23L1203.42 107.55" fill="none" stroke="#800040" stroke-width="4.6" stroke-linejoin="round" stroke-linecap="butt"/><path d="M904.62 279.97V291.97M899.62 279.97h10M899.62 291.97h10M919.56 258.7V270.95M914.56 258.7h10M914.56 270.95h10M934.5 240.55V253.05M929.5 240.55h10M929.5 253.05h10M949.44 221.68V234.43M944.44 221.68h10M944.44 234.43h10M964.38 200.41V213.41M959.38 200.41h10M959.38 213.41h10M979.32 184.67V197.92M974.32 184.67h10M974.32 197.92h10M994.26 172.41V185.91M989.26 172.41h10M989.26 185.91h10M1009.2 156.66V170.41M1004.2 156.66h10M1004.2 170.41h10M1024.14 144.04V158.04M1019.14 144.04h10M1019.14 158.04h10M1039.08 134.63V150.63M1034.08 134.63h10M1034.08 150.63h10M1054.02 127.58V141.58M1049.02 127.58h10M1049.02 141.58h10M1128.72 110.68V128.68M1123.72 110.68h10M1123.72 128.68h10M1143.66 104.27V118.27M1138.66 104.27h10M1138.66 118.27h10M1173.54 115.81V129.81M1168.54 115.81h10M1168.54 129.81h10M1188.48 105.23V119.23M1183.48 105.23h10M1183.48 119.23h10" stroke="#000" stroke-width="1.8" fill="none"/><g fill="#000"><path d="M725.34 524.73L730.64 530.23L725.34 535.73L720.04 530.23Z"/><path d="M740.28 507.19L745.58 512.69L740.28 518.19L734.98 512.69Z"/><path d="M755.22 486.77L760.52 492.27L755.22 497.77L749.92 492.27Z"/><path d="M770.16 466.94L775.46 472.44L770.16 477.94L764.86 472.44Z"/><path d="M785.1 445.68L790.4 451.18L785.1 456.68L779.8 451.18Z"/><path d="M800.04 425.85L805.34 431.35L800.04 436.85L794.74 431.35Z"/><path d="M814.98 405.91L820.28 411.41L814.98 416.91L809.68 411.41Z"/><path d="M829.92 385.36L835.22 390.86L829.92 396.36L824.62 390.86Z"/><path d="M844.86 364.45L850.16 369.95L844.86 375.45L839.56 369.95Z"/><path d="M859.8 343.67L865.1 349.17L859.8 354.67L854.5 349.17Z"/><path d="M874.74 322.52L880.04 328.02L874.74 333.52L869.44 328.02Z"/><path d="M889.68 301.26L894.98 306.76L889.68 312.26L884.38 306.76Z"/><path d="M904.62 280.47L909.92 285.97L904.62 291.47L899.32 285.97Z"/><path d="M919.56 259.32L924.86 264.82L919.56 270.32L914.26 264.82Z"/><path d="M934.5 241.3L939.8 246.8L934.5 252.3L929.2 246.8Z"/><path d="M949.44 222.56L954.74 228.06L949.44 233.56L944.14 228.06Z"/><path d="M964.38 201.41L969.68 206.91L964.38 212.41L959.08 206.91Z"/><path d="M979.32 185.79L984.62 191.29L979.32 196.79L974.02 191.29Z"/><path d="M994.26 173.66L999.56 179.16L994.26 184.66L988.96 179.16Z"/><path d="M1009.2 158.04L1014.5 163.54L1009.2 169.04L1003.9 163.54Z"/><path d="M1024.14 145.54L1029.44 151.04L1024.14 156.54L1018.84 151.04Z"/><path d="M1039.08 137.13L1044.38 142.63L1039.08 148.13L1033.78 142.63Z"/><path d="M1054.02 129.08L1059.32 134.58L1054.02 140.08L1048.72 134.58Z"/><path d="M1068.96 119.83L1074.26 125.33L1068.96 130.83L1063.66 125.33Z"/><path d="M1083.9 130.16L1089.2 135.66L1083.9 141.16L1078.6 135.66Z"/><path d="M1098.84 108.17L1104.14 113.67L1098.84 119.17L1093.54 113.67Z"/><path d="M1113.78 113.22L1119.08 118.72L1113.78 124.22L1108.48 118.72Z"/><path d="M1128.72 114.18L1134.02 119.68L1128.72 125.18L1123.42 119.68Z"/><path d="M1143.66 105.77L1148.96 111.27L1143.66 116.77L1138.36 111.27Z"/><path d="M1158.6 111.06L1163.9 116.56L1158.6 122.06L1153.3 116.56Z"/><path d="M1173.54 117.31L1178.84 122.81L1173.54 128.31L1168.24 122.81Z"/><path d="M1188.48 106.73L1193.78 112.23L1188.48 117.73L1183.18 112.23Z"/><path d="M1203.42 102.05L1208.72 107.55L1203.42 113.05L1198.12 107.55Z"/></g><path d="M725.34 543.45L740.28 537.2L755.22 530.96L770.16 526.03L785.1 519.18L800.04 512.69L814.98 506.45L829.92 499.84L844.86 493.59L859.8 486.74L874.74 480.25L889.68 474.12L904.62 467.64L919.56 460.91L934.5 454.42L949.44 447.45L964.38 441.32L979.32 433.75L994.26 427.27L1009.2 420.78L1024.14 414.29L1039.08 407.92L1054.02 401.43L1068.96 394.83L1083.9 388.34L1098.84 381.85L1113.78 375L1128.72 368.75L1143.66 363.35L1158.6 357.82L1173.54 352.53L1188.48 347.49L1203.42 342.2L1218.36 337.03" fill="none" stroke="#66c8fa" stroke-width="4.6" stroke-linejoin="round" stroke-linecap="butt"/><path d="M904.62 462.57V472.7M899.62 462.57h10M899.62 472.7h10M919.56 455.58V466.24M914.56 455.58h10M914.56 466.24h10M934.5 448.82V460.02M929.5 448.82h10M929.5 460.02h10M949.44 441.62V453.28M944.44 441.62h10M944.44 453.28h10M964.38 435.26V447.39M959.38 435.26h10M959.38 447.39h10M979.32 427.45V440.05M974.32 427.45h10M974.32 440.05h10M994.26 420.62V433.92M989.26 420.62h10M989.26 433.92h10M1009.2 413.78V427.78M1004.2 413.78h10M1004.2 427.78h10M1024.14 407.17V421.42M1019.14 407.17h10M1019.14 421.42h10M1039.08 400.67V415.17M1034.08 400.67h10M1034.08 415.17h10M1054.02 394.06V408.81M1049.02 394.06h10M1049.02 408.81h10M1068.96 387.33V402.33M1063.96 387.33h10M1063.96 402.33h10M1083.9 380.54V396.14M1078.9 380.54h10M1078.9 396.14h10M1098.84 372.98V390.72M1093.84 372.98h10M1093.84 390.72h10M1113.78 365.07V384.93M1108.78 365.07h10M1108.78 384.93h10M1128.72 357.75V379.75M1123.72 357.75h10M1123.72 379.75h10M1143.66 351.85V374.85M1138.66 351.85h10M1138.66 374.85h10M1158.6 345.82V369.82M1153.6 345.82h10M1153.6 369.82h10M1173.54 340.03V365.03M1168.54 340.03h10M1168.54 365.03h10M1188.48 334.49V360.49M1183.48 334.49h10M1183.48 360.49h10M1203.42 329.2V355.2M1198.42 329.2h10M1198.42 355.2h10M1218.36 324.03V350.03M1213.36 324.03h10M1213.36 350.03h10" stroke="#000" stroke-width="1.8" fill="none"/><g fill="#000"><rect x="720.74" y="538.85" width="9.2" height="9.2"/><rect x="735.68" y="532.6" width="9.2" height="9.2"/><rect x="750.62" y="526.36" width="9.2" height="9.2"/><rect x="765.56" y="521.43" width="9.2" height="9.2"/><rect x="780.5" y="514.58" width="9.2" height="9.2"/><rect x="795.44" y="508.09" width="9.2" height="9.2"/><rect x="810.38" y="501.85" width="9.2" height="9.2"/><rect x="825.32" y="495.24" width="9.2" height="9.2"/><rect x="840.26" y="488.99" width="9.2" height="9.2"/><rect x="855.2" y="482.14" width="9.2" height="9.2"/><rect x="870.14" y="475.65" width="9.2" height="9.2"/><rect x="885.08" y="469.52" width="9.2" height="9.2"/><rect x="900.02" y="463.04" width="9.2" height="9.2"/><rect x="914.96" y="456.31" width="9.2" height="9.2"/><rect x="929.9" y="449.82" width="9.2" height="9.2"/><rect x="944.84" y="442.85" width="9.2" height="9.2"/><rect x="959.78" y="436.72" width="9.2" height="9.2"/><rect x="974.72" y="429.15" width="9.2" height="9.2"/><rect x="989.66" y="422.67" width="9.2" height="9.2"/><rect x="1004.6" y="416.18" width="9.2" height="9.2"/><rect x="1019.54" y="409.69" width="9.2" height="9.2"/><rect x="1034.48" y="403.32" width="9.2" height="9.2"/><rect x="1049.42" y="396.83" width="9.2" height="9.2"/><rect x="1064.36" y="390.23" width="9.2" height="9.2"/><rect x="1079.3" y="383.74" width="9.2" height="9.2"/><rect x="1094.24" y="377.25" width="9.2" height="9.2"/><rect x="1109.18" y="370.4" width="9.2" height="9.2"/><rect x="1124.12" y="364.15" width="9.2" height="9.2"/><rect x="1139.06" y="358.75" width="9.2" height="9.2"/><rect x="1154" y="353.22" width="9.2" height="9.2"/><rect x="1168.94" y="347.93" width="9.2" height="9.2"/><rect x="1183.88" y="342.89" width="9.2" height="9.2"/><rect x="1198.82" y="337.6" width="9.2" height="9.2"/><rect x="1213.76" y="332.43" width="9.2" height="9.2"/></g><path d="M725.34 543.45L740.28 537.92L755.22 534.68L770.16 532.16L785.1 530.23L800.04 529.15L814.98 528.43L829.92 527.71L844.86 527.23L859.8 526.51L874.74 525.97L889.68 525.43L904.62 524.59L919.56 523.75L934.5 523.15L949.44 522.55L964.38 522.18L979.32 521.82L994.26 521.1L1009.2 520.38L1024.14 519.96L1039.08 519.54L1054.02 519.22L1068.96 518.9L1083.9 518.58L1098.84 518.26L1113.78 517.94L1128.72 517.62L1143.66 517.18L1158.6 516.74L1173.54 516.3L1188.48 515.86L1203.42 515.42L1218.36 514.98" fill="none" stroke="#3f8000" stroke-width="4.6" stroke-linejoin="round" stroke-linecap="butt"/><g fill="#000"><path d="M725.34 538.05L730.54 548.85L720.14 548.85Z"/><path d="M740.28 532.52L745.48 543.32L735.08 543.32Z"/><path d="M755.22 529.28L760.42 540.08L750.02 540.08Z"/><path d="M770.16 526.76L775.36 537.56L764.96 537.56Z"/><path d="M785.1 524.83L790.3 535.63L779.9 535.63Z"/><path d="M800.04 523.75L805.24 534.55L794.84 534.55Z"/><path d="M814.98 523.03L820.18 533.83L809.78 533.83Z"/><path d="M829.92 522.31L835.12 533.11L824.72 533.11Z"/><path d="M844.86 521.83L850.06 532.63L839.66 532.63Z"/><path d="M859.8 521.11L865 531.91L854.6 531.91Z"/><path d="M874.74 520.57L879.94 531.37L869.54 531.37Z"/><path d="M889.68 520.03L894.88 530.83L884.48 530.83Z"/><path d="M904.62 519.19L909.82 529.99L899.42 529.99Z"/><path d="M919.56 518.35L924.76 529.15L914.36 529.15Z"/><path d="M934.5 517.75L939.7 528.55L929.3 528.55Z"/><path d="M949.44 517.15L954.64 527.95L944.24 527.95Z"/><path d="M964.38 516.78L969.58 527.58L959.18 527.58Z"/><path d="M979.32 516.42L984.52 527.22L974.12 527.22Z"/><path d="M994.26 515.7L999.46 526.5L989.06 526.5Z"/><path d="M1009.2 514.98L1014.4 525.78L1004 525.78Z"/><path d="M1024.14 514.56L1029.34 525.36L1018.94 525.36Z"/><path d="M1039.08 514.14L1044.28 524.94L1033.88 524.94Z"/><path d="M1054.02 513.82L1059.22 524.62L1048.82 524.62Z"/><path d="M1068.96 513.5L1074.16 524.3L1063.76 524.3Z"/><path d="M1083.9 513.18L1089.1 523.98L1078.7 523.98Z"/><path d="M1098.84 512.86L1104.04 523.66L1093.64 523.66Z"/><path d="M1113.78 512.54L1118.98 523.34L1108.58 523.34Z"/><path d="M1128.72 512.22L1133.92 523.02L1123.52 523.02Z"/><path d="M1143.66 511.78L1148.86 522.58L1138.46 522.58Z"/><path d="M1158.6 511.34L1163.8 522.14L1153.4 522.14Z"/><path d="M1173.54 510.9L1178.74 521.7L1168.34 521.7Z"/><path d="M1188.48 510.46L1193.68 521.26L1183.28 521.26Z"/><path d="M1203.42 510.02L1208.62 520.82L1198.22 520.82Z"/><path d="M1218.36 509.58L1223.56 520.38L1213.16 520.38Z"/></g><path d="M725.34 519.66L740.28 504.28L755.22 489.86L770.16 476.05L785.1 464.39L800.04 452.86L814.98 441.8L829.92 430.99L844.86 421.02L859.8 411.65L874.74 402.76L889.68 393.38L904.62 384.49L919.56 375.84L934.5 368.15L949.44 360.34L964.38 352.17L979.32 344.36L994.26 336.55L1009.2 329.22L1024.14 322.62L1039.08 315.77L1054.02 309.52L1068.96 303.87L1083.9 298.35L1098.84 293.18L1113.78 288.37L1128.72 284.05L1143.66 279.96L1158.6 275.88L1173.54 272.51L1188.48 268.43L1203.42 264.94L1218.36 261.34" fill="none" stroke="#0d4290" stroke-width="4.6" stroke-linejoin="round" stroke-linecap="butt"/><path d="M755.22 483.86V495.86M750.22 483.86h10M750.22 495.86h10M770.16 469.55V482.55M765.16 469.55h10M765.16 482.55h10M785.1 456.69V472.09M780.1 456.69h10M780.1 472.09h10M800.04 444.51V461.21M795.04 444.51h10M795.04 461.21h10M814.98 432.8V450.8M809.98 432.8h10M809.98 450.8h10M829.92 421.82V440.16M824.92 421.82h10M824.92 440.16h10M844.86 411.69V430.35M839.86 411.69h10M839.86 430.35h10M859.8 402.15V421.15M854.8 402.15h10M854.8 421.15h10M874.74 392.89V412.62M869.74 392.89h10M869.74 412.62h10M889.68 383.15V403.62M884.68 383.15h10M884.68 403.62h10M904.62 373.89V395.09M899.62 373.89h10M899.62 395.09h10M919.56 364.9V386.79M914.56 364.9h10M914.56 386.79h10M934.5 356.87V379.44M929.5 356.87h10M929.5 379.44h10M949.44 348.71V371.97M944.44 348.71h10M944.44 371.97h10M964.38 340.2V364.14M959.38 340.2h10M959.38 364.14h10M979.32 332.05V356.68M974.32 332.05h10M974.32 356.68h10M994.26 323.9V349.21M989.26 323.9h10M989.26 349.21h10M1009.2 316.22V342.22M1004.2 316.22h10M1004.2 342.22h10M1024.14 310.12V335.12M1019.14 310.12h10M1019.14 335.12h10M1039.08 303.77V327.77M1034.08 303.77h10M1034.08 327.77h10M1054.02 298.02V321.02M1049.02 298.02h10M1049.02 321.02h10M1068.96 292.87V314.87M1063.96 292.87h10M1063.96 314.87h10M1083.9 287.48V309.21M1078.9 287.48h10M1078.9 309.21h10M1098.84 282.45V303.91M1093.84 282.45h10M1093.84 303.91h10M1113.78 277.77V298.97M1108.78 277.77h10M1108.78 298.97h10M1128.72 273.58V294.51M1123.72 273.58h10M1123.72 294.51h10M1143.66 269.63V290.3M1138.66 269.63h10M1138.66 290.3h10M1158.6 265.68V286.08M1153.6 265.68h10M1153.6 286.08h10M1173.54 262.71V282.31M1168.54 262.71h10M1168.54 282.31h10M1188.48 259.03V277.83M1183.48 259.03h10M1183.48 277.83h10M1203.42 255.94V273.94M1198.42 255.94h10M1198.42 273.94h10M1218.36 252.74V269.94M1213.36 252.74h10M1213.36 269.94h10" stroke="#000" stroke-width="1.8" fill="none"/><g fill="#000"><ellipse cx="725.34" cy="519.66" rx="4.4" ry="4.6"/><ellipse cx="740.28" cy="504.28" rx="4.4" ry="4.6"/><ellipse cx="755.22" cy="489.86" rx="4.4" ry="4.6"/><ellipse cx="770.16" cy="476.05" rx="4.4" ry="4.6"/><ellipse cx="785.1" cy="464.39" rx="4.4" ry="4.6"/><ellipse cx="800.04" cy="452.86" rx="4.4" ry="4.6"/><ellipse cx="814.98" cy="441.8" rx="4.4" ry="4.6"/><ellipse cx="829.92" cy="430.99" rx="4.4" ry="4.6"/><ellipse cx="844.86" cy="421.02" rx="4.4" ry="4.6"/><ellipse cx="859.8" cy="411.65" rx="4.4" ry="4.6"/><ellipse cx="874.74" cy="402.76" rx="4.4" ry="4.6"/><ellipse cx="889.68" cy="393.38" rx="4.4" ry="4.6"/><ellipse cx="904.62" cy="384.49" rx="4.4" ry="4.6"/><ellipse cx="919.56" cy="375.84" rx="4.4" ry="4.6"/><ellipse cx="934.5" cy="368.15" rx="4.4" ry="4.6"/><ellipse cx="949.44" cy="360.34" rx="4.4" ry="4.6"/><ellipse cx="964.38" cy="352.17" rx="4.4" ry="4.6"/><ellipse cx="979.32" cy="344.36" rx="4.4" ry="4.6"/><ellipse cx="994.26" cy="336.55" rx="4.4" ry="4.6"/><ellipse cx="1009.2" cy="329.22" rx="4.4" ry="4.6"/><ellipse cx="1024.14" cy="322.62" rx="4.4" ry="4.6"/><ellipse cx="1039.08" cy="315.77" rx="4.4" ry="4.6"/><ellipse cx="1054.02" cy="309.52" rx="4.4" ry="4.6"/><ellipse cx="1068.96" cy="303.87" rx="4.4" ry="4.6"/><ellipse cx="1083.9" cy="298.35" rx="4.4" ry="4.6"/><ellipse cx="1098.84" cy="293.18" rx="4.4" ry="4.6"/><ellipse cx="1113.78" cy="288.37" rx="4.4" ry="4.6"/><ellipse cx="1128.72" cy="284.05" rx="4.4" ry="4.6"/><ellipse cx="1143.66" cy="279.96" rx="4.4" ry="4.6"/><ellipse cx="1158.6" cy="275.88" rx="4.4" ry="4.6"/><ellipse cx="1173.54" cy="272.51" rx="4.4" ry="4.6"/><ellipse cx="1188.48" cy="268.43" rx="4.4" ry="4.6"/><ellipse cx="1203.42" cy="264.94" rx="4.4" ry="4.6"/><ellipse cx="1218.36" cy="261.34" rx="4.4" ry="4.6"/></g><text transform="translate(702.18 585.4) scale(0.2990 0.3200)" font-size="100" stroke="#000" stroke-width="0.97">0</text><text transform="translate(768.21 585.4) scale(0.2990 0.3200)" font-size="100" stroke="#000" stroke-width="0.97">10</text><text transform="translate(843.35 585.4) scale(0.2990 0.3200)" font-size="100" stroke="#000" stroke-width="0.97">20</text><text transform="translate(918.2 585.4) scale(0.2990 0.3200)" font-size="100" stroke="#000" stroke-width="0.97">30</text><text transform="translate(992.9 585.4) scale(0.2990 0.3200)" font-size="100" stroke="#000" stroke-width="0.97">40</text><text transform="translate(1067.46 585.4) scale(0.2990 0.3200)" font-size="100" stroke="#000" stroke-width="0.97">50</text><text transform="translate(1142.01 585.4) scale(0.2990 0.3200)" font-size="100" stroke="#000" stroke-width="0.97">60</text><text transform="translate(1216.71 585.4) scale(0.2990 0.3200)" font-size="100" stroke="#000" stroke-width="0.97">70</text><text transform="translate(688.65 561.3) scale(0.2990 0.3200)" font-size="100" stroke="#000" stroke-width="0.97">0</text><text transform="translate(688.05 441.15) scale(0.2990 0.3200)" font-size="100" stroke="#000" stroke-width="0.97">1</text><text transform="translate(688.35 321) scale(0.2990 0.3200)" font-size="100" stroke="#000" stroke-width="0.97">2</text><text transform="translate(688.35 200.85) scale(0.2990 0.3200)" font-size="100" stroke="#000" stroke-width="0.97">3</text><text transform="translate(687.45 80.7) scale(0.2990 0.3200)" font-size="100" stroke="#000" stroke-width="0.97">4</text><path d="M747.1 87.2H765.3" stroke="#0d4290" stroke-width="4.8" stroke-linecap="round"/><g fill="#000"><ellipse cx="756.2" cy="87.2" rx="4.4" ry="4.6"/></g><text transform="translate(776.2 94.9) scale(0.2510 0.2670)" font-size="100" stroke="#000" stroke-width="1.74">Alg2A</text><path d="M747.1 113.6H765.3" stroke="#3f8000" stroke-width="4.8" stroke-linecap="round"/><g fill="#000"><path d="M756.2 108.2L761.4 119L751 119Z"/></g><text transform="translate(776.2 122.1) scale(0.2510 0.2670)" font-size="100" stroke="#000" stroke-width="1.74">A1-II</text><path d="M747.1 142.3H765.3" stroke="#66c8fa" stroke-width="4.8" stroke-linecap="round"/><g fill="#000"><rect x="751.6" y="137.7" width="9.2" height="9.2"/></g><text transform="translate(776.2 150.4) scale(0.2510 0.2670)" font-size="100" stroke="#000" stroke-width="1.74">A1-II&#39;</text><path d="M747.1 169H765.3" stroke="#800040" stroke-width="4.8" stroke-linecap="round"/><g fill="#000"><path d="M756.2 163.5L761.5 169L756.2 174.5L750.9 169Z"/></g><text transform="translate(776.2 177.4) scale(0.2510 0.2670)" font-size="100" stroke="#000" stroke-width="1.74">A1-III</text><path d="M747.1 197.3H765.3" stroke="#ff8000" stroke-width="4.8" stroke-linecap="round"/><g fill="#000"><path d="M756.2 202.7L761.4 191.9L751 191.9Z"/></g><text transform="translate(776.2 205.5) scale(0.2510 0.2670)" font-size="100" stroke="#000" stroke-width="1.74">AlyA1</text><path d="M747.1 227.6H765.3" stroke="#ffff00" stroke-width="4.8" stroke-linecap="round"/><g fill="#000"><path d="M756.2 222.6L757.55 226.34L761.53 226.47L758.39 228.91L759.49 232.73L756.2 230.5L752.91 232.73L754.01 228.91L750.87 226.47L754.85 226.34Z"/></g><text transform="translate(775.2 235.6) scale(0.2510 0.2670)" font-size="100" stroke="#000" stroke-width="1.74">Blank</text><text transform="translate(686.2 34.9) scale(0.4721 0.4928)" font-size="100" stroke="#000" stroke-width="0.93">B</text><text transform="translate(721.8 34.93) scale(0.4700 0.4700)" font-size="100" stroke="#000" stroke-width="0.96">)</text><text transform="translate(747.76 32.9) scale(0.2920 0.3190)" font-size="100" stroke="#000" stroke-width="1.47">PolyM alginate</text><text transform="translate(666.6 341.39) rotate(-90) scale(0.2986 0.3127)" font-size="100" stroke="#000" stroke-width="1.47">OD</text><text transform="translate(676.5 297.05) rotate(-90) scale(0.2180 0.2310)" font-size="100" stroke="#000" stroke-width="2">235</text><text transform="translate(902.51 634.8) scale(0.2926 0.3000)" font-size="100" stroke="#000" stroke-width="1.52">time (min)</text></g>
<g><path d="M1352.5 554.9V68.5M1347.8 550.3H1875.9M1352.5 550.3v4.6M1427.1 550.3v4.6M1501.7 550.3v4.6M1576.3 550.3v4.6M1650.9 550.3v4.6M1725.5 550.3v4.6M1800.1 550.3v4.6M1874.7 550.3v4.6M1389.8 550.3v3.2M1464.4 550.3v3.2M1539 550.3v3.2M1613.6 550.3v3.2M1688.2 550.3v3.2M1762.8 550.3v3.2M1837.4 550.3v3.2M1352.5 550.3h-4.7M1352.5 430.15h-4.7M1352.5 310h-4.7M1352.5 189.85h-4.7M1352.5 69.7h-4.7M1352.5 514.13h-3.6M1352.5 492.97h-3.6M1352.5 477.96h-3.6M1352.5 466.32h-3.6M1352.5 456.81h-3.6M1352.5 448.76h-3.6M1352.5 441.79h-3.6M1352.5 435.65h-3.6M1352.5 393.98h-3.6M1352.5 372.82h-3.6M1352.5 357.81h-3.6M1352.5 346.17h-3.6M1352.5 336.66h-3.6M1352.5 328.61h-3.6M1352.5 321.64h-3.6M1352.5 315.5h-3.6M1352.5 273.83h-3.6M1352.5 252.67h-3.6M1352.5 237.66h-3.6M1352.5 226.02h-3.6M1352.5 216.51h-3.6M1352.5 208.46h-3.6M1352.5 201.49h-3.6M1352.5 195.35h-3.6M1352.5 153.68h-3.6M1352.5 132.52h-3.6M1352.5 117.51h-3.6M1352.5 105.87h-3.6M1352.5 96.36h-3.6M1352.5 88.31h-3.6M1352.5 81.34h-3.6M1352.5 75.2h-3.6" stroke="#000" stroke-width="2.6" fill="none"/><path d="M1367.42 549.82L1382.34 549.82L1397.26 549.82L1412.18 549.82L1427.1 549.82L1442.02 549.82L1456.94 549.82L1471.86 549.82L1486.78 549.82L1501.7 549.82L1516.62 549.82L1531.54 549.82L1546.46 549.82L1561.38 549.82L1576.3 549.82L1591.22 549.82L1606.14 549.82L1621.06 549.82L1635.98 549.82L1650.9 549.82L1665.82 549.82L1680.74 549.82L1695.66 549.82L1710.58 549.82L1725.5 549.82L1740.42 549.82L1755.34 549.82L1770.26 549.82L1785.18 549.82L1800.1 549.82L1815.02 549.82L1829.94 549.82L1844.86 549.82L1859.78 549.82" fill="none" stroke="#ffff00" stroke-width="4.6" stroke-linejoin="round" stroke-linecap="butt"/><g fill="#000"><path d="M1367.42 544.82L1368.77 548.56L1372.75 548.69L1369.61 551.13L1370.71 554.95L1367.42 552.72L1364.13 554.95L1365.23 551.13L1362.09 548.69L1366.07 548.56Z"/><path d="M1382.34 544.82L1383.69 548.56L1387.67 548.69L1384.53 551.13L1385.63 554.95L1382.34 552.72L1379.05 554.95L1380.15 551.13L1377.01 548.69L1380.99 548.56Z"/><path d="M1397.26 544.82L1398.61 548.56L1402.59 548.69L1399.45 551.13L1400.55 554.95L1397.26 552.72L1393.97 554.95L1395.07 551.13L1391.93 548.69L1395.91 548.56Z"/><path d="M1412.18 544.82L1413.53 548.56L1417.51 548.69L1414.37 551.13L1415.47 554.95L1412.18 552.72L1408.89 554.95L1409.99 551.13L1406.85 548.69L1410.83 548.56Z"/><path d="M1427.1 544.82L1428.45 548.56L1432.43 548.69L1429.29 551.13L1430.39 554.95L1427.1 552.72L1423.81 554.95L1424.91 551.13L1421.77 548.69L1425.75 548.56Z"/><path d="M1442.02 544.82L1443.37 548.56L1447.35 548.69L1444.21 551.13L1445.31 554.95L1442.02 552.72L1438.73 554.95L1439.83 551.13L1436.69 548.69L1440.67 548.56Z"/><path d="M1456.94 544.82L1458.29 548.56L1462.27 548.69L1459.13 551.13L1460.23 554.95L1456.94 552.72L1453.65 554.95L1454.75 551.13L1451.61 548.69L1455.59 548.56Z"/><path d="M1471.86 544.82L1473.21 548.56L1477.19 548.69L1474.05 551.13L1475.15 554.95L1471.86 552.72L1468.57 554.95L1469.67 551.13L1466.53 548.69L1470.51 548.56Z"/><path d="M1486.78 544.82L1488.13 548.56L1492.11 548.69L1488.97 551.13L1490.07 554.95L1486.78 552.72L1483.49 554.95L1484.59 551.13L1481.45 548.69L1485.43 548.56Z"/><path d="M1501.7 544.82L1503.05 548.56L1507.03 548.69L1503.89 551.13L1504.99 554.95L1501.7 552.72L1498.41 554.95L1499.51 551.13L1496.37 548.69L1500.35 548.56Z"/><path d="M1516.62 544.82L1517.97 548.56L1521.95 548.69L1518.81 551.13L1519.91 554.95L1516.62 552.72L1513.33 554.95L1514.43 551.13L1511.29 548.69L1515.27 548.56Z"/><path d="M1531.54 544.82L1532.89 548.56L1536.87 548.69L1533.73 551.13L1534.83 554.95L1531.54 552.72L1528.25 554.95L1529.35 551.13L1526.21 548.69L1530.19 548.56Z"/><path d="M1546.46 544.82L1547.81 548.56L1551.79 548.69L1548.65 551.13L1549.75 554.95L1546.46 552.72L1543.17 554.95L1544.27 551.13L1541.13 548.69L1545.11 548.56Z"/><path d="M1561.38 544.82L1562.73 548.56L1566.71 548.69L1563.57 551.13L1564.67 554.95L1561.38 552.72L1558.09 554.95L1559.19 551.13L1556.05 548.69L1560.03 548.56Z"/><path d="M1576.3 544.82L1577.65 548.56L1581.63 548.69L1578.49 551.13L1579.59 554.95L1576.3 552.72L1573.01 554.95L1574.11 551.13L1570.97 548.69L1574.95 548.56Z"/><path d="M1591.22 544.82L1592.57 548.56L1596.55 548.69L1593.41 551.13L1594.51 554.95L1591.22 552.72L1587.93 554.95L1589.03 551.13L1585.89 548.69L1589.87 548.56Z"/><path d="M1606.14 544.82L1607.49 548.56L1611.47 548.69L1608.33 551.13L1609.43 554.95L1606.14 552.72L1602.85 554.95L1603.95 551.13L1600.81 548.69L1604.79 548.56Z"/><path d="M1621.06 544.82L1622.41 548.56L1626.39 548.69L1623.25 551.13L1624.35 554.95L1621.06 552.72L1617.77 554.95L1618.87 551.13L1615.73 548.69L1619.71 548.56Z"/><path d="M1635.98 544.82L1637.33 548.56L1641.31 548.69L1638.17 551.13L1639.27 554.95L1635.98 552.72L1632.69 554.95L1633.79 551.13L1630.65 548.69L1634.63 548.56Z"/><path d="M1650.9 544.82L1652.25 548.56L1656.23 548.69L1653.09 551.13L1654.19 554.95L1650.9 552.72L1647.61 554.95L1648.71 551.13L1645.57 548.69L1649.55 548.56Z"/><path d="M1665.82 544.82L1667.17 548.56L1671.15 548.69L1668.01 551.13L1669.11 554.95L1665.82 552.72L1662.53 554.95L1663.63 551.13L1660.49 548.69L1664.47 548.56Z"/><path d="M1680.74 544.82L1682.09 548.56L1686.07 548.69L1682.93 551.13L1684.03 554.95L1680.74 552.72L1677.45 554.95L1678.55 551.13L1675.41 548.69L1679.39 548.56Z"/><path d="M1695.66 544.82L1697.01 548.56L1700.99 548.69L1697.85 551.13L1698.95 554.95L1695.66 552.72L1692.37 554.95L1693.47 551.13L1690.33 548.69L1694.31 548.56Z"/><path d="M1710.58 544.82L1711.93 548.56L1715.91 548.69L1712.77 551.13L1713.87 554.95L1710.58 552.72L1707.29 554.95L1708.39 551.13L1705.25 548.69L1709.23 548.56Z"/><path d="M1725.5 544.82L1726.85 548.56L1730.83 548.69L1727.69 551.13L1728.79 554.95L1725.5 552.72L1722.21 554.95L1723.31 551.13L1720.17 548.69L1724.15 548.56Z"/><path d="M1740.42 544.82L1741.77 548.56L1745.75 548.69L1742.61 551.13L1743.71 554.95L1740.42 552.72L1737.13 554.95L1738.23 551.13L1735.09 548.69L1739.07 548.56Z"/><path d="M1755.34 544.82L1756.69 548.56L1760.67 548.69L1757.53 551.13L1758.63 554.95L1755.34 552.72L1752.05 554.95L1753.15 551.13L1750.01 548.69L1753.99 548.56Z"/><path d="M1770.26 544.82L1771.61 548.56L1775.59 548.69L1772.45 551.13L1773.55 554.95L1770.26 552.72L1766.97 554.95L1768.07 551.13L1764.93 548.69L1768.91 548.56Z"/><path d="M1785.18 544.82L1786.53 548.56L1790.51 548.69L1787.37 551.13L1788.47 554.95L1785.18 552.72L1781.89 554.95L1782.99 551.13L1779.85 548.69L1783.83 548.56Z"/><path d="M1800.1 544.82L1801.45 548.56L1805.43 548.69L1802.29 551.13L1803.39 554.95L1800.1 552.72L1796.81 554.95L1797.91 551.13L1794.77 548.69L1798.75 548.56Z"/><path d="M1815.02 544.82L1816.37 548.56L1820.35 548.69L1817.21 551.13L1818.31 554.95L1815.02 552.72L1811.73 554.95L1812.83 551.13L1809.69 548.69L1813.67 548.56Z"/><path d="M1829.94 544.82L1831.29 548.56L1835.27 548.69L1832.13 551.13L1833.23 554.95L1829.94 552.72L1826.65 554.95L1827.75 551.13L1824.61 548.69L1828.59 548.56Z"/><path d="M1844.86 544.82L1846.21 548.56L1850.19 548.69L1847.05 551.13L1848.15 554.95L1844.86 552.72L1841.57 554.95L1842.67 551.13L1839.53 548.69L1843.51 548.56Z"/><path d="M1859.78 544.82L1861.13 548.56L1865.11 548.69L1861.97 551.13L1863.07 554.95L1859.78 552.72L1856.49 554.95L1857.59 551.13L1854.45 548.69L1858.43 548.56Z"/></g><path d="M1367.42 541.29L1382.34 535.64L1397.26 529.27L1412.18 521.94L1427.1 514.86L1442.02 507.41L1456.94 499.72L1471.86 491.91L1486.78 483.98L1501.7 476.05L1516.62 467.64L1531.54 459.95L1546.46 452.38L1561.38 444.33L1576.3 436.16L1591.22 427.99L1606.14 419.58L1621.06 411.89L1635.98 403.48L1650.9 395.31L1665.82 387.74L1680.74 379.93L1695.66 372.48L1710.58 363.95L1725.5 357.7L1740.42 351.45L1755.34 342.68L1770.26 333.43L1785.18 324.06L1800.1 317.21L1815.02 312.52L1829.94 304.71L1844.86 298.47L1859.78 289.09" fill="none" stroke="#ff8000" stroke-width="4.6" stroke-linejoin="round" stroke-linecap="butt"/><path d="M1665.82 382.24V393.24M1660.82 382.24h10M1660.82 393.24h10M1680.74 373.93V385.93M1675.74 373.93h10M1675.74 385.93h10M1695.66 364.48V380.48M1690.66 364.48h10M1690.66 380.48h10M1710.58 353.95V373.95M1705.58 353.95h10M1705.58 373.95h10M1725.5 344.7V370.7M1720.5 344.7h10M1720.5 370.7h10M1740.42 334.95V367.95M1735.42 334.95h10M1735.42 367.95h10M1755.34 322.68V362.68M1750.34 322.68h10M1750.34 362.68h10M1770.26 313.43V353.43M1765.26 313.43h10M1765.26 353.43h10M1785.18 308.06V340.06M1780.18 308.06h10M1780.18 340.06h10M1800.1 303.21V331.21M1795.1 303.21h10M1795.1 331.21h10M1815.02 298.52V326.52M1810.02 298.52h10M1810.02 326.52h10M1829.94 292.71V316.71M1824.94 292.71h10M1824.94 316.71h10M1844.86 288.47V308.47M1839.86 288.47h10M1839.86 308.47h10M1859.78 279.09V299.09M1854.78 279.09h10M1854.78 299.09h10" stroke="#000" stroke-width="1.8" fill="none"/><g fill="#000"><path d="M1367.42 546.69L1372.62 535.89L1362.22 535.89Z"/><path d="M1382.34 541.04L1387.54 530.24L1377.14 530.24Z"/><path d="M1397.26 534.67L1402.46 523.87L1392.06 523.87Z"/><path d="M1412.18 527.34L1417.38 516.54L1406.98 516.54Z"/><path d="M1427.1 520.26L1432.3 509.46L1421.9 509.46Z"/><path d="M1442.02 512.81L1447.22 502.01L1436.82 502.01Z"/><path d="M1456.94 505.12L1462.14 494.32L1451.74 494.32Z"/><path d="M1471.86 497.31L1477.06 486.51L1466.66 486.51Z"/><path d="M1486.78 489.38L1491.98 478.58L1481.58 478.58Z"/><path d="M1501.7 481.45L1506.9 470.65L1496.5 470.65Z"/><path d="M1516.62 473.04L1521.82 462.24L1511.42 462.24Z"/><path d="M1531.54 465.35L1536.74 454.55L1526.34 454.55Z"/><path d="M1546.46 457.78L1551.66 446.98L1541.26 446.98Z"/><path d="M1561.38 449.73L1566.58 438.93L1556.18 438.93Z"/><path d="M1576.3 441.56L1581.5 430.76L1571.1 430.76Z"/><path d="M1591.22 433.39L1596.42 422.59L1586.02 422.59Z"/><path d="M1606.14 424.98L1611.34 414.18L1600.94 414.18Z"/><path d="M1621.06 417.29L1626.26 406.49L1615.86 406.49Z"/><path d="M1635.98 408.88L1641.18 398.08L1630.78 398.08Z"/><path d="M1650.9 400.71L1656.1 389.91L1645.7 389.91Z"/><path d="M1665.82 393.14L1671.02 382.34L1660.62 382.34Z"/><path d="M1680.74 385.33L1685.94 374.53L1675.54 374.53Z"/><path d="M1695.66 377.88L1700.86 367.08L1690.46 367.08Z"/><path d="M1710.58 369.35L1715.78 358.55L1705.38 358.55Z"/><path d="M1725.5 363.1L1730.7 352.3L1720.3 352.3Z"/><path d="M1740.42 356.85L1745.62 346.05L1735.22 346.05Z"/><path d="M1755.34 348.08L1760.54 337.28L1750.14 337.28Z"/><path d="M1770.26 338.83L1775.46 328.03L1765.06 328.03Z"/><path d="M1785.18 329.46L1790.38 318.66L1779.98 318.66Z"/><path d="M1800.1 322.61L1805.3 311.81L1794.9 311.81Z"/><path d="M1815.02 317.92L1820.22 307.12L1809.82 307.12Z"/><path d="M1829.94 310.11L1835.14 299.31L1824.74 299.31Z"/><path d="M1844.86 303.87L1850.06 293.07L1839.66 293.07Z"/><path d="M1859.78 294.49L1864.98 283.69L1854.58 283.69Z"/></g><path d="M1367.42 547.3L1382.34 547.18L1397.26 547.06L1412.18 546.66L1427.1 546.27L1442.02 545.87L1456.94 545.48L1471.86 545.08L1486.78 544.69L1501.7 544.29L1516.62 543.88L1531.54 543.48L1546.46 543.07L1561.38 542.66L1576.3 542.25L1591.22 541.84L1606.14 541.43L1621.06 541.02L1635.98 540.62L1650.9 540.21L1665.82 539.85L1680.74 539.49L1695.66 538.81L1710.58 538.12L1725.5 537.44L1740.42 537L1755.34 536.56L1770.26 536.12L1785.18 535.88L1800.1 535.64L1815.02 535.4L1829.94 535.16L1844.86 534.92L1859.78 534.68" fill="none" stroke="#800040" stroke-width="4.6" stroke-linejoin="round" stroke-linecap="butt"/><g fill="#000"><path d="M1367.42 541.8L1372.72 547.3L1367.42 552.8L1362.12 547.3Z"/><path d="M1382.34 541.68L1387.64 547.18L1382.34 552.68L1377.04 547.18Z"/><path d="M1397.26 541.56L1402.56 547.06L1397.26 552.56L1391.96 547.06Z"/><path d="M1412.18 541.16L1417.48 546.66L1412.18 552.16L1406.88 546.66Z"/><path d="M1427.1 540.77L1432.4 546.27L1427.1 551.77L1421.8 546.27Z"/><path d="M1442.02 540.37L1447.32 545.87L1442.02 551.37L1436.72 545.87Z"/><path d="M1456.94 539.98L1462.24 545.48L1456.94 550.98L1451.64 545.48Z"/><path d="M1471.86 539.58L1477.16 545.08L1471.86 550.58L1466.56 545.08Z"/><path d="M1486.78 539.19L1492.08 544.69L1486.78 550.19L1481.48 544.69Z"/><path d="M1501.7 538.79L1507 544.29L1501.7 549.79L1496.4 544.29Z"/><path d="M1516.62 538.38L1521.92 543.88L1516.62 549.38L1511.32 543.88Z"/><path d="M1531.54 537.98L1536.84 543.48L1531.54 548.98L1526.24 543.48Z"/><path d="M1546.46 537.57L1551.76 543.07L1546.46 548.57L1541.16 543.07Z"/><path d="M1561.38 537.16L1566.68 542.66L1561.38 548.16L1556.08 542.66Z"/><path d="M1576.3 536.75L1581.6 542.25L1576.3 547.75L1571 542.25Z"/><path d="M1591.22 536.34L1596.52 541.84L1591.22 547.34L1585.92 541.84Z"/><path d="M1606.14 535.93L1611.44 541.43L1606.14 546.93L1600.84 541.43Z"/><path d="M1621.06 535.52L1626.36 541.02L1621.06 546.52L1615.76 541.02Z"/><path d="M1635.98 535.12L1641.28 540.62L1635.98 546.12L1630.68 540.62Z"/><path d="M1650.9 534.71L1656.2 540.21L1650.9 545.71L1645.6 540.21Z"/><path d="M1665.82 534.35L1671.12 539.85L1665.82 545.35L1660.52 539.85Z"/><path d="M1680.74 533.99L1686.04 539.49L1680.74 544.99L1675.44 539.49Z"/><path d="M1695.66 533.31L1700.96 538.81L1695.66 544.31L1690.36 538.81Z"/><path d="M1710.58 532.62L1715.88 538.12L1710.58 543.62L1705.28 538.12Z"/><path d="M1725.5 531.94L1730.8 537.44L1725.5 542.94L1720.2 537.44Z"/><path d="M1740.42 531.5L1745.72 537L1740.42 542.5L1735.12 537Z"/><path d="M1755.34 531.06L1760.64 536.56L1755.34 542.06L1750.04 536.56Z"/><path d="M1770.26 530.62L1775.56 536.12L1770.26 541.62L1764.96 536.12Z"/><path d="M1785.18 530.38L1790.48 535.88L1785.18 541.38L1779.88 535.88Z"/><path d="M1800.1 530.14L1805.4 535.64L1800.1 541.14L1794.8 535.64Z"/><path d="M1815.02 529.9L1820.32 535.4L1815.02 540.9L1809.72 535.4Z"/><path d="M1829.94 529.66L1835.24 535.16L1829.94 540.66L1824.64 535.16Z"/><path d="M1844.86 529.42L1850.16 534.92L1844.86 540.42L1839.56 534.92Z"/><path d="M1859.78 529.18L1865.08 534.68L1859.78 540.18L1854.48 534.68Z"/></g><path d="M1367.42 542.73L1382.34 537.08L1397.26 530.72L1412.18 523.15L1427.1 516.06L1442.02 508.49L1456.94 500.68L1471.86 492.75L1486.78 484.7L1501.7 476.77L1516.62 468.12L1531.54 460.31L1546.46 452.62L1561.38 444.45L1576.3 436.04L1591.22 427.63L1606.14 418.98L1621.06 411.17L1635.98 402.52L1650.9 394.1L1665.82 386.3L1680.74 376.8L1695.66 368.87L1710.58 358.3L1725.5 349.89L1740.42 340.52L1755.34 331.15L1770.26 322.86L1785.18 314.69L1800.1 307.84L1815.02 300.03L1829.94 289.81L1844.86 281.28L1859.78 272.03" fill="none" stroke="#66c8fa" stroke-width="4.6" stroke-linejoin="round" stroke-linecap="butt"/><path d="M1665.82 380.8V391.8M1660.82 380.8h10M1660.82 391.8h10M1680.74 370.8V382.8M1675.74 370.8h10M1675.74 382.8h10M1695.66 362.21V375.54M1690.66 362.21h10M1690.66 375.54h10M1710.58 350.97V365.63M1705.58 350.97h10M1705.58 365.63h10M1725.5 341.89V357.89M1720.5 341.89h10M1720.5 357.89h10M1740.42 332.18V348.85M1735.42 332.18h10M1735.42 348.85h10M1755.34 322.48V339.81M1750.34 322.48h10M1750.34 339.81h10M1770.26 313.86V331.86M1765.26 313.86h10M1765.26 331.86h10M1785.18 305.69V323.69M1780.18 305.69h10M1780.18 323.69h10M1800.1 298.84V316.84M1795.1 298.84h10M1795.1 316.84h10M1815.02 291.03V309.03M1810.02 291.03h10M1810.02 309.03h10M1829.94 280.81V298.81M1824.94 280.81h10M1824.94 298.81h10M1844.86 272.78V289.78M1839.86 272.78h10M1839.86 289.78h10M1859.78 264.03V280.03M1854.78 264.03h10M1854.78 280.03h10" stroke="#000" stroke-width="1.8" fill="none"/><g fill="#000"><rect x="1362.82" y="538.13" width="9.2" height="9.2"/><rect x="1377.74" y="532.48" width="9.2" height="9.2"/><rect x="1392.66" y="526.12" width="9.2" height="9.2"/><rect x="1407.58" y="518.55" width="9.2" height="9.2"/><rect x="1422.5" y="511.46" width="9.2" height="9.2"/><rect x="1437.42" y="503.89" width="9.2" height="9.2"/><rect x="1452.34" y="496.08" width="9.2" height="9.2"/><rect x="1467.26" y="488.15" width="9.2" height="9.2"/><rect x="1482.18" y="480.1" width="9.2" height="9.2"/><rect x="1497.1" y="472.17" width="9.2" height="9.2"/><rect x="1512.02" y="463.52" width="9.2" height="9.2"/><rect x="1526.94" y="455.71" width="9.2" height="9.2"/><rect x="1541.86" y="448.02" width="9.2" height="9.2"/><rect x="1556.78" y="439.85" width="9.2" height="9.2"/><rect x="1571.7" y="431.44" width="9.2" height="9.2"/><rect x="1586.62" y="423.03" width="9.2" height="9.2"/><rect x="1601.54" y="414.38" width="9.2" height="9.2"/><rect x="1616.46" y="406.57" width="9.2" height="9.2"/><rect x="1631.38" y="397.92" width="9.2" height="9.2"/><rect x="1646.3" y="389.5" width="9.2" height="9.2"/><rect x="1661.22" y="381.7" width="9.2" height="9.2"/><rect x="1676.14" y="372.2" width="9.2" height="9.2"/><rect x="1691.06" y="364.27" width="9.2" height="9.2"/><rect x="1705.98" y="353.7" width="9.2" height="9.2"/><rect x="1720.9" y="345.29" width="9.2" height="9.2"/><rect x="1735.82" y="335.92" width="9.2" height="9.2"/><rect x="1750.74" y="326.55" width="9.2" height="9.2"/><rect x="1765.66" y="318.26" width="9.2" height="9.2"/><rect x="1780.58" y="310.09" width="9.2" height="9.2"/><rect x="1795.5" y="303.24" width="9.2" height="9.2"/><rect x="1810.42" y="295.43" width="9.2" height="9.2"/><rect x="1825.34" y="285.21" width="9.2" height="9.2"/><rect x="1840.26" y="276.68" width="9.2" height="9.2"/><rect x="1855.18" y="267.43" width="9.2" height="9.2"/></g><path d="M1367.42 532.88L1382.34 516.9L1397.26 500.68L1412.18 484.34L1427.1 468.48L1442.02 453.58L1456.94 438.92L1471.86 424.98L1486.78 410.93L1501.7 398.31L1516.62 385.69L1531.54 374.28L1546.46 364.07L1561.38 353.85L1576.3 344.48L1591.22 335.83L1606.14 326.82L1621.06 318.41L1635.98 310.6L1650.9 303.99L1665.82 297.38L1680.74 291.62L1695.66 285.97L1710.58 281.28L1725.5 279.12L1740.42 268.91L1755.34 260.5L1770.26 251.85L1785.18 242.36L1800.1 243.92L1815.02 249.32L1829.94 239.23L1844.86 234.55L1859.78 223.61" fill="none" stroke="#3f8000" stroke-width="4.6" stroke-linejoin="round" stroke-linecap="butt"/><path d="M1725.5 273.12V285.12M1720.5 273.12h10M1720.5 285.12h10M1740.42 260.91V276.91M1735.42 260.91h10M1735.42 276.91h10M1755.34 250.5V270.5M1750.34 250.5h10M1750.34 270.5h10M1770.26 241.85V261.85M1765.26 241.85h10M1765.26 261.85h10M1785.18 234.36V250.36M1780.18 234.36h10M1780.18 250.36h10M1800.1 235.92V251.92M1795.1 235.92h10M1795.1 251.92h10M1815.02 241.32V257.32M1810.02 241.32h10M1810.02 257.32h10M1829.94 223.23V255.23M1824.94 223.23h10M1824.94 255.23h10M1844.86 228.55V240.55M1839.86 228.55h10M1839.86 240.55h10M1859.78 217.61V229.61M1854.78 217.61h10M1854.78 229.61h10" stroke="#000" stroke-width="1.8" fill="none"/><g fill="#000"><path d="M1367.42 527.48L1372.62 538.28L1362.22 538.28Z"/><path d="M1382.34 511.5L1387.54 522.3L1377.14 522.3Z"/><path d="M1397.26 495.28L1402.46 506.08L1392.06 506.08Z"/><path d="M1412.18 478.94L1417.38 489.74L1406.98 489.74Z"/><path d="M1427.1 463.08L1432.3 473.88L1421.9 473.88Z"/><path d="M1442.02 448.18L1447.22 458.98L1436.82 458.98Z"/><path d="M1456.94 433.52L1462.14 444.32L1451.74 444.32Z"/><path d="M1471.86 419.58L1477.06 430.38L1466.66 430.38Z"/><path d="M1486.78 405.53L1491.98 416.33L1481.58 416.33Z"/><path d="M1501.7 392.91L1506.9 403.71L1496.5 403.71Z"/><path d="M1516.62 380.29L1521.82 391.09L1511.42 391.09Z"/><path d="M1531.54 368.88L1536.74 379.68L1526.34 379.68Z"/><path d="M1546.46 358.67L1551.66 369.47L1541.26 369.47Z"/><path d="M1561.38 348.45L1566.58 359.25L1556.18 359.25Z"/><path d="M1576.3 339.08L1581.5 349.88L1571.1 349.88Z"/><path d="M1591.22 330.43L1596.42 341.23L1586.02 341.23Z"/><path d="M1606.14 321.42L1611.34 332.22L1600.94 332.22Z"/><path d="M1621.06 313.01L1626.26 323.81L1615.86 323.81Z"/><path d="M1635.98 305.2L1641.18 316L1630.78 316Z"/><path d="M1650.9 298.59L1656.1 309.39L1645.7 309.39Z"/><path d="M1665.82 291.98L1671.02 302.78L1660.62 302.78Z"/><path d="M1680.74 286.22L1685.94 297.02L1675.54 297.02Z"/><path d="M1695.66 280.57L1700.86 291.37L1690.46 291.37Z"/><path d="M1710.58 275.88L1715.78 286.68L1705.38 286.68Z"/><path d="M1725.5 273.72L1730.7 284.52L1720.3 284.52Z"/><path d="M1740.42 263.51L1745.62 274.31L1735.22 274.31Z"/><path d="M1755.34 255.1L1760.54 265.9L1750.14 265.9Z"/><path d="M1770.26 246.45L1775.46 257.25L1765.06 257.25Z"/><path d="M1785.18 236.96L1790.38 247.76L1779.98 247.76Z"/><path d="M1800.1 238.52L1805.3 249.32L1794.9 249.32Z"/><path d="M1815.02 243.92L1820.22 254.72L1809.82 254.72Z"/><path d="M1829.94 233.83L1835.14 244.63L1824.74 244.63Z"/><path d="M1844.86 229.15L1850.06 239.95L1839.66 239.95Z"/><path d="M1859.78 218.21L1864.98 229.01L1854.58 229.01Z"/></g><path d="M1367.42 522.55L1382.34 502.12L1397.26 484.34L1412.18 468.48L1427.1 453.82L1442.02 439.52L1456.94 426.31L1471.86 413.69L1486.78 402.03L1501.7 390.5L1516.62 380.29L1531.54 369.11L1546.46 359.38L1561.38 349.17L1576.3 339.8L1591.22 331.63L1606.14 322.01L1621.06 313.84L1635.98 305.79L1650.9 299.19L1665.82 291.98L1680.74 285.97L1695.66 279.24L1710.58 273.59L1725.5 271.07L1740.42 259.54L1755.34 257.37L1770.26 253.89L1785.18 245.48L1800.1 244.52L1815.02 249.32L1829.94 241.75L1844.86 235.51L1859.78 218.93" fill="none" stroke="#0d4290" stroke-width="4.6" stroke-linejoin="round" stroke-linecap="butt"/><path d="M1725.5 265.07V277.07M1720.5 265.07h10M1720.5 277.07h10M1740.42 249.54V269.54M1735.42 249.54h10M1735.42 269.54h10M1755.34 243.37V271.37M1750.34 243.37h10M1750.34 271.37h10M1770.26 238.39V269.39M1765.26 238.39h10M1765.26 269.39h10M1785.18 231.48V259.48M1780.18 231.48h10M1780.18 259.48h10M1800.1 227.52V261.52M1795.1 227.52h10M1795.1 261.52h10M1815.02 235.32V263.32M1810.02 235.32h10M1810.02 263.32h10M1829.94 229.75V253.75M1824.94 229.75h10M1824.94 253.75h10M1844.86 225.51V245.51M1839.86 225.51h10M1839.86 245.51h10M1859.78 205.43V232.43M1854.78 205.43h10M1854.78 232.43h10" stroke="#000" stroke-width="1.8" fill="none"/><g fill="#000"><ellipse cx="1367.42" cy="522.55" rx="4.4" ry="4.6"/><ellipse cx="1382.34" cy="502.12" rx="4.4" ry="4.6"/><ellipse cx="1397.26" cy="484.34" rx="4.4" ry="4.6"/><ellipse cx="1412.18" cy="468.48" rx="4.4" ry="4.6"/><ellipse cx="1427.1" cy="453.82" rx="4.4" ry="4.6"/><ellipse cx="1442.02" cy="439.52" rx="4.4" ry="4.6"/><ellipse cx="1456.94" cy="426.31" rx="4.4" ry="4.6"/><ellipse cx="1471.86" cy="413.69" rx="4.4" ry="4.6"/><ellipse cx="1486.78" cy="402.03" rx="4.4" ry="4.6"/><ellipse cx="1501.7" cy="390.5" rx="4.4" ry="4.6"/><ellipse cx="1516.62" cy="380.29" rx="4.4" ry="4.6"/><ellipse cx="1531.54" cy="369.11" rx="4.4" ry="4.6"/><ellipse cx="1546.46" cy="359.38" rx="4.4" ry="4.6"/><ellipse cx="1561.38" cy="349.17" rx="4.4" ry="4.6"/><ellipse cx="1576.3" cy="339.8" rx="4.4" ry="4.6"/><ellipse cx="1591.22" cy="331.63" rx="4.4" ry="4.6"/><ellipse cx="1606.14" cy="322.01" rx="4.4" ry="4.6"/><ellipse cx="1621.06" cy="313.84" rx="4.4" ry="4.6"/><ellipse cx="1635.98" cy="305.79" rx="4.4" ry="4.6"/><ellipse cx="1650.9" cy="299.19" rx="4.4" ry="4.6"/><ellipse cx="1665.82" cy="291.98" rx="4.4" ry="4.6"/><ellipse cx="1680.74" cy="285.97" rx="4.4" ry="4.6"/><ellipse cx="1695.66" cy="279.24" rx="4.4" ry="4.6"/><ellipse cx="1710.58" cy="273.59" rx="4.4" ry="4.6"/><ellipse cx="1725.5" cy="271.07" rx="4.4" ry="4.6"/><ellipse cx="1740.42" cy="259.54" rx="4.4" ry="4.6"/><ellipse cx="1755.34" cy="257.37" rx="4.4" ry="4.6"/><ellipse cx="1770.26" cy="253.89" rx="4.4" ry="4.6"/><ellipse cx="1785.18" cy="245.48" rx="4.4" ry="4.6"/><ellipse cx="1800.1" cy="244.52" rx="4.4" ry="4.6"/><ellipse cx="1815.02" cy="249.32" rx="4.4" ry="4.6"/><ellipse cx="1829.94" cy="241.75" rx="4.4" ry="4.6"/><ellipse cx="1844.86" cy="235.51" rx="4.4" ry="4.6"/><ellipse cx="1859.78" cy="218.93" rx="4.4" ry="4.6"/></g><text transform="translate(1344.28 585.4) scale(0.2990 0.3200)" font-size="100" stroke="#000" stroke-width="0.97">0</text><text transform="translate(1410.21 585.4) scale(0.2990 0.3200)" font-size="100" stroke="#000" stroke-width="0.97">10</text><text transform="translate(1485.26 585.4) scale(0.2990 0.3200)" font-size="100" stroke="#000" stroke-width="0.97">20</text><text transform="translate(1560 585.4) scale(0.2990 0.3200)" font-size="100" stroke="#000" stroke-width="0.97">30</text><text transform="translate(1634.6 585.4) scale(0.2990 0.3200)" font-size="100" stroke="#000" stroke-width="0.97">40</text><text transform="translate(1709.06 585.4) scale(0.2990 0.3200)" font-size="100" stroke="#000" stroke-width="0.97">50</text><text transform="translate(1783.51 585.4) scale(0.2990 0.3200)" font-size="100" stroke="#000" stroke-width="0.97">60</text><text transform="translate(1858.11 585.4) scale(0.2990 0.3200)" font-size="100" stroke="#000" stroke-width="0.97">70</text><text transform="translate(1330.75 561.3) scale(0.2990 0.3200)" font-size="100" stroke="#000" stroke-width="0.97">0</text><text transform="translate(1330.15 441.15) scale(0.2990 0.3200)" font-size="100" stroke="#000" stroke-width="0.97">1</text><text transform="translate(1330.45 321) scale(0.2990 0.3200)" font-size="100" stroke="#000" stroke-width="0.97">2</text><text transform="translate(1330.45 200.85) scale(0.2990 0.3200)" font-size="100" stroke="#000" stroke-width="0.97">3</text><text transform="translate(1329.56 80.7) scale(0.2990 0.3200)" font-size="100" stroke="#000" stroke-width="0.97">4</text><path d="M1388 87.2H1406" stroke="#0d4290" stroke-width="4.8" stroke-linecap="round"/><g fill="#000"><ellipse cx="1396.8" cy="87.2" rx="4.4" ry="4.6"/></g><text transform="translate(1416.8 95) scale(0.2510 0.2670)" font-size="100" stroke="#000" stroke-width="1.74">Alg2A</text><path d="M1388 115.1H1406" stroke="#3f8000" stroke-width="4.8" stroke-linecap="round"/><g fill="#000"><path d="M1396.8 109.7L1402 120.5L1391.6 120.5Z"/></g><text transform="translate(1416.8 123) scale(0.2510 0.2670)" font-size="100" stroke="#000" stroke-width="1.74">A1-II</text><path d="M1388 143.3H1406" stroke="#66c8fa" stroke-width="4.8" stroke-linecap="round"/><g fill="#000"><rect x="1392.2" y="138.7" width="9.2" height="9.2"/></g><text transform="translate(1416.8 151) scale(0.2510 0.2670)" font-size="100" stroke="#000" stroke-width="1.74">A1-II&#39;</text><path d="M1388 171.8H1406" stroke="#800040" stroke-width="4.8" stroke-linecap="round"/><g fill="#000"><path d="M1396.8 166.3L1402.1 171.8L1396.8 177.3L1391.5 171.8Z"/></g><text transform="translate(1416.8 180.2) scale(0.2510 0.2670)" font-size="100" stroke="#000" stroke-width="1.74">A1-III</text><path d="M1388 200.1H1406" stroke="#ff8000" stroke-width="4.8" stroke-linecap="round"/><g fill="#000"><path d="M1396.8 205.5L1402 194.7L1391.6 194.7Z"/></g><text transform="translate(1416.8 208.3) scale(0.2510 0.2670)" font-size="100" stroke="#000" stroke-width="1.74">AlyA1</text><path d="M1388 227.9H1406" stroke="#ffff00" stroke-width="4.8" stroke-linecap="round"/><g fill="#000"><path d="M1396.8 222.9L1398.15 226.64L1402.13 226.77L1398.99 229.21L1400.09 233.03L1396.8 230.8L1393.51 233.03L1394.61 229.21L1391.47 226.77L1395.45 226.64Z"/></g><text transform="translate(1415.8 235.6) scale(0.2510 0.2670)" font-size="100" stroke="#000" stroke-width="1.74">Blank</text><text transform="translate(1334.88 40.2) scale(0.4554 0.4873)" font-size="100" stroke="#000" stroke-width="0.95">C</text><text transform="translate(1369 39.73) scale(0.4700 0.4700)" font-size="100" stroke="#000" stroke-width="0.96">)</text><text transform="translate(1389.36 35.3) scale(0.2920 0.3190)" font-size="100" stroke="#000" stroke-width="1.47">PolyG alginate</text><text transform="translate(1308.6 341.39) rotate(-90) scale(0.2986 0.3127)" font-size="100" stroke="#000" stroke-width="1.47">OD</text><text transform="translate(1318.5 297.05) rotate(-90) scale(0.2180 0.2310)" font-size="100" stroke="#000" stroke-width="2">235</text><text transform="translate(1544.01 634.8) scale(0.2926 0.3000)" font-size="100" stroke="#000" stroke-width="1.52">time (min)</text></g>
</svg></body></html>
